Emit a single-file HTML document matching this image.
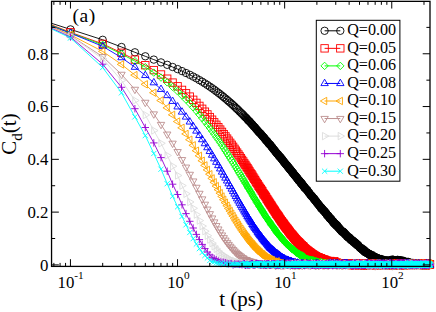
<!DOCTYPE html><html><head><meta charset="utf-8"><style>html,body{margin:0;padding:0;background:#fff}svg{display:block}text{font-family:"Liberation Serif",serif;fill:#000}</style></head><body>
<svg width="436" height="312" viewBox="0 0 436 312">
<rect width="436" height="312" fill="#fff"/>
<defs>
<marker id="m0" markerUnits="userSpaceOnUse" markerWidth="12" markerHeight="12" viewBox="-6 -6 12 12" refX="0" refY="0" overflow="visible"><g fill="none" stroke="#000000" stroke-width="0.9"><circle r="3.7" cx="0" cy="0"/></g></marker>
<marker id="d0" markerUnits="userSpaceOnUse" markerWidth="12" markerHeight="12" viewBox="-6 -6 12 12" refX="0" refY="0" overflow="visible"><g fill="#000000" fill-opacity="0.35" stroke="#000000" stroke-width="0.9"><circle r="3.7" cx="0" cy="0"/></g></marker>
<g id="s0" fill="none" stroke="#000000" stroke-width="0.9"><circle r="3.7" cx="0" cy="0"/></g>
<marker id="m1" markerUnits="userSpaceOnUse" markerWidth="12" markerHeight="12" viewBox="-6 -6 12 12" refX="0" refY="0" overflow="visible"><g fill="none" stroke="#ff0000" stroke-width="0.9"><rect x="-3.7" y="-3.7" width="7.4" height="7.4"/></g></marker>
<marker id="d1" markerUnits="userSpaceOnUse" markerWidth="12" markerHeight="12" viewBox="-6 -6 12 12" refX="0" refY="0" overflow="visible"><g fill="#ff0000" fill-opacity="0.35" stroke="#ff0000" stroke-width="0.9"><rect x="-3.7" y="-3.7" width="7.4" height="7.4"/></g></marker>
<g id="s1" fill="none" stroke="#ff0000" stroke-width="0.9"><rect x="-3.7" y="-3.7" width="7.4" height="7.4"/></g>
<marker id="m2" markerUnits="userSpaceOnUse" markerWidth="12" markerHeight="12" viewBox="-6 -6 12 12" refX="0" refY="0" overflow="visible"><g fill="none" stroke="#00ff00" stroke-width="0.9"><path d="M-3.7 0L0 -3.7L3.7 0L0 3.7Z"/></g></marker>
<marker id="d2" markerUnits="userSpaceOnUse" markerWidth="12" markerHeight="12" viewBox="-6 -6 12 12" refX="0" refY="0" overflow="visible"><g fill="#00ff00" fill-opacity="0.35" stroke="#00ff00" stroke-width="0.9"><path d="M-3.7 0L0 -3.7L3.7 0L0 3.7Z"/></g></marker>
<g id="s2" fill="none" stroke="#00ff00" stroke-width="0.9"><path d="M-3.7 0L0 -3.7L3.7 0L0 3.7Z"/></g>
<marker id="m3" markerUnits="userSpaceOnUse" markerWidth="12" markerHeight="12" viewBox="-6 -6 12 12" refX="0" refY="0" overflow="visible"><g fill="none" stroke="#0000ff" stroke-width="0.9"><path d="M0 -4.27L-3.7 2.14L3.7 2.14Z"/></g></marker>
<marker id="d3" markerUnits="userSpaceOnUse" markerWidth="12" markerHeight="12" viewBox="-6 -6 12 12" refX="0" refY="0" overflow="visible"><g fill="#0000ff" fill-opacity="0.35" stroke="#0000ff" stroke-width="0.9"><path d="M0 -4.27L-3.7 2.14L3.7 2.14Z"/></g></marker>
<g id="s3" fill="none" stroke="#0000ff" stroke-width="0.9"><path d="M0 -4.27L-3.7 2.14L3.7 2.14Z"/></g>
<marker id="m4" markerUnits="userSpaceOnUse" markerWidth="12" markerHeight="12" viewBox="-6 -6 12 12" refX="0" refY="0" overflow="visible"><g fill="none" stroke="#ffa500" stroke-width="0.9"><path d="M-4.27 0L2.14 -3.7L2.14 3.7Z"/></g></marker>
<marker id="d4" markerUnits="userSpaceOnUse" markerWidth="12" markerHeight="12" viewBox="-6 -6 12 12" refX="0" refY="0" overflow="visible"><g fill="#ffa500" fill-opacity="0.35" stroke="#ffa500" stroke-width="0.9"><path d="M-4.27 0L2.14 -3.7L2.14 3.7Z"/></g></marker>
<g id="s4" fill="none" stroke="#ffa500" stroke-width="0.9"><path d="M-4.27 0L2.14 -3.7L2.14 3.7Z"/></g>
<marker id="m5" markerUnits="userSpaceOnUse" markerWidth="12" markerHeight="12" viewBox="-6 -6 12 12" refX="0" refY="0" overflow="visible"><g fill="none" stroke="#bc8f8f" stroke-width="0.9"><path d="M0 4.27L-3.7 -2.14L3.7 -2.14Z"/></g></marker>
<marker id="d5" markerUnits="userSpaceOnUse" markerWidth="12" markerHeight="12" viewBox="-6 -6 12 12" refX="0" refY="0" overflow="visible"><g fill="#bc8f8f" fill-opacity="0.35" stroke="#bc8f8f" stroke-width="0.9"><path d="M0 4.27L-3.7 -2.14L3.7 -2.14Z"/></g></marker>
<g id="s5" fill="none" stroke="#bc8f8f" stroke-width="0.9"><path d="M0 4.27L-3.7 -2.14L3.7 -2.14Z"/></g>
<marker id="m6" markerUnits="userSpaceOnUse" markerWidth="12" markerHeight="12" viewBox="-6 -6 12 12" refX="0" refY="0" overflow="visible"><g fill="none" stroke="#dcdcdc" stroke-width="0.9"><path d="M4.27 0L-2.14 -3.7L-2.14 3.7Z"/></g></marker>
<marker id="d6" markerUnits="userSpaceOnUse" markerWidth="12" markerHeight="12" viewBox="-6 -6 12 12" refX="0" refY="0" overflow="visible"><g fill="#dcdcdc" fill-opacity="0.35" stroke="#dcdcdc" stroke-width="0.9"><path d="M4.27 0L-2.14 -3.7L-2.14 3.7Z"/></g></marker>
<g id="s6" fill="none" stroke="#dcdcdc" stroke-width="0.9"><path d="M4.27 0L-2.14 -3.7L-2.14 3.7Z"/></g>
<marker id="m7" markerUnits="userSpaceOnUse" markerWidth="12" markerHeight="12" viewBox="-6 -6 12 12" refX="0" refY="0" overflow="visible"><g fill="none" stroke="#9400d3" stroke-width="0.9"><path d="M-3.7 0H3.7M0 -3.7V3.7"/></g></marker>
<marker id="d7" markerUnits="userSpaceOnUse" markerWidth="12" markerHeight="12" viewBox="-6 -6 12 12" refX="0" refY="0" overflow="visible"><g fill="none" stroke="#9400d3" stroke-width="1.5"><path d="M-3.7 0H3.7M0 -3.7V3.7"/></g></marker>
<g id="s7" fill="none" stroke="#9400d3" stroke-width="0.9"><path d="M-3.7 0H3.7M0 -3.7V3.7"/></g>
<marker id="m8" markerUnits="userSpaceOnUse" markerWidth="12" markerHeight="12" viewBox="-6 -6 12 12" refX="0" refY="0" overflow="visible"><g fill="none" stroke="#00ffff" stroke-width="0.9"><path d="M-2.62 -2.62L2.62 2.62M-2.62 2.62L2.62 -2.62"/></g></marker>
<marker id="d8" markerUnits="userSpaceOnUse" markerWidth="12" markerHeight="12" viewBox="-6 -6 12 12" refX="0" refY="0" overflow="visible"><g fill="none" stroke="#00ffff" stroke-width="1.5"><path d="M-2.62 -2.62L2.62 2.62M-2.62 2.62L2.62 -2.62"/></g></marker>
<g id="s8" fill="none" stroke="#00ffff" stroke-width="0.9"><path d="M-2.62 -2.62L2.62 2.62M-2.62 2.62L2.62 -2.62"/></g>
<clipPath id="cp"><rect x="51.55" y="1.35" width="378.45" height="265.04999999999995"/></clipPath>
</defs>
<polyline clip-path="url(#cp)" fill="none" stroke="#000000" stroke-width="0.9" points="51.5,23.3 70.5,29.4 102.7,39.8 121.5,47.0 134.9,52.3 145.3,56.3 153.8,59.6 161.0,62.4 167.2,64.8 172.6,67.0 177.6,69.1 182.0,71.1 186.0,73.0 189.8,74.8 193.2,76.6 196.4,78.3 199.4,80.1 202.2,81.7 204.9,83.4 207.4,85.0 209.8,86.6 212.1,88.2 214.2,89.7 216.3,91.3 218.3,92.8 220.2,94.2 222.0,95.7 223.7,97.1 225.4,98.5 227.1,99.9 228.6,101.3 230.2,102.6 231.7,103.9 233.1,105.2 234.5,106.5 235.8,107.8 237.1,109.0 238.4,110.2 239.6,111.5 240.9,112.7 242.0,113.8 243.2,114.9 244.3,116.2 245.4,117.3 246.5,118.2 247.5,119.5 248.5,120.7 249.5,121.3 250.5,122.6 251.5,123.7 252.4,124.6 253.3,125.8 254.2,126.7 255.1,127.5 256.0,128.8 256.8,129.7 257.7,130.7 258.5,131.7 259.3,132.5 260.1,133.3 260.9,134.0 261.7,135.2 262.4,135.9 263.2,136.8 263.9,137.5 264.6,138.4 265.3,139.3 266.0,140.4 266.7,140.7 267.4,141.6 268.1,142.6 268.7,143.6 269.4,144.2 270.0,144.6 270.6,145.2 271.3,146.5 271.9,147.0 272.5,147.7 273.1,148.7 273.7,149.5 274.3,150.0 274.8,150.7 275.4,151.5 276.0,152.3 276.5,152.9 277.1,153.5 277.6,154.2 278.2,154.5 278.7,155.6 279.2,156.2 279.7,156.8 280.3,156.9 280.8,157.8 281.3,158.7 281.8,158.8 282.3,159.7 282.8,160.5 283.2,160.7 283.7,161.8 284.2,162.2 284.6,162.6 285.1,163.3 285.6,163.9 286.0,164.4 286.5,165.1 286.9,165.3 287.4,165.9 287.8,166.8 288.2,167.1 288.7,167.4 289.1,168.3 289.5,168.9 289.9,169.1 290.3,169.4 290.7,170.2 291.2,170.7 291.6,171.1 292.0,172.0 292.3,172.0 292.7,172.9 293.1,172.9 293.5,173.5 293.9,174.2 294.3,174.8 294.7,175.2 295.0,175.6 295.4,176.0 295.8,176.4 296.1,177.0 296.5,177.3 296.9,177.8 297.2,178.3 297.6,178.6 297.9,179.2 298.3,179.6 298.6,180.4 299.0,180.4 299.3,180.7 299.6,181.1 300.0,181.6 300.3,182.2 300.6,182.4 301.0,182.9 301.3,183.7 301.6,183.1 301.9,183.8 302.3,184.5 302.6,184.9 302.9,185.3 303.2,185.5 303.5,186.1 303.8,186.4 304.1,186.6 304.4,187.7 304.7,187.6 305.0,187.7 305.6,188.6 306.2,189.3 306.8,190.0 307.4,190.1 307.9,191.4 308.5,192.4 309.1,192.6 309.6,193.5 310.1,194.4 310.7,195.1 311.2,195.9 311.7,195.7 312.2,196.7 312.8,197.3 313.3,198.2 313.8,198.9 314.3,198.6 314.7,200.1 315.2,200.1 315.7,201.2 316.2,201.2 316.7,202.2 317.1,203.1 317.6,203.3 318.0,203.9 318.5,204.6 318.9,205.0 319.4,205.5 319.8,206.4 320.3,206.8 320.7,207.0 321.1,208.4 321.5,207.8 322.0,208.9 322.4,209.0 322.8,209.6 323.2,210.3 323.6,210.6 324.0,211.2 324.4,211.1 324.8,211.6 325.2,212.7 325.6,212.7 325.9,213.1 326.3,213.4 326.7,214.7 327.1,215.0 327.5,215.6 327.8,215.3 328.2,216.0 328.6,216.1 328.9,217.1 329.3,217.8 329.6,217.4 330.0,218.6 330.3,218.8 330.7,218.9 331.0,218.7 331.4,220.1 331.7,220.1 332.0,220.3 332.4,221.0 332.7,221.4 333.0,222.1 333.4,221.6 333.7,222.7 334.0,223.2 334.3,223.5 334.7,223.3 335.0,223.5 335.3,224.4 335.6,224.5 335.9,224.8 336.2,225.6 336.5,225.3 336.8,225.0 337.1,226.0 337.4,225.8 337.9,227.1 338.3,227.4 338.8,227.6 339.2,228.2 339.6,229.0 340.0,229.2 340.5,230.0 340.9,230.0 341.3,230.8 341.7,231.3 342.1,231.8 342.5,231.4 342.9,232.3 343.3,231.7 343.7,232.4 344.1,232.5 344.5,233.9 344.9,233.5 345.3,234.3 345.6,234.6 346.0,235.0 346.4,235.1 346.7,235.7 347.1,236.6 347.5,236.4 347.8,236.9 348.2,237.4 348.5,237.3 348.9,237.2 349.2,237.8 349.6,238.7 349.9,238.0 350.3,238.7 350.6,239.6 351.0,239.8 351.3,239.8 351.6,240.4 352.0,240.5 352.3,240.3 352.6,240.4 352.9,241.0 353.2,241.9 353.6,241.6 353.9,241.8 354.2,242.1 354.5,242.1 354.8,242.9 355.1,242.8 355.4,243.6 355.7,242.9 356.0,244.1 356.4,244.1 356.8,244.0 357.2,245.3 357.6,245.3 358.0,244.9 358.4,245.7 358.8,246.4 359.1,246.5 359.5,247.2 359.9,247.5 360.2,247.8 360.6,248.0 361.0,248.6 361.3,248.7 361.7,248.9 362.0,248.3 362.4,249.6 362.7,250.0 363.1,249.8 363.4,250.0 363.8,251.1 364.1,250.0 364.4,251.1 364.8,252.0 365.1,251.1 365.4,251.9 365.8,252.5 366.1,252.1 366.4,252.5 366.7,252.9 367.1,252.5 367.4,253.0 367.7,253.3 368.0,253.7 368.3,253.6 368.6,253.7 368.9,253.7 369.2,254.1 369.5,254.7 369.9,254.7 370.3,254.5 370.6,254.8 371.0,256.2 371.4,255.9 371.7,255.9 372.1,255.0 372.4,256.3 372.8,256.5 373.1,257.1 373.5,256.8 373.8,256.8 374.2,257.2 374.5,256.5 374.8,257.7 375.2,257.6 375.5,257.4 375.8,258.3 376.1,258.6 376.5,257.6 376.8,258.0 377.1,258.5 377.4,258.6 377.7,258.5 378.1,258.4 378.4,259.6 378.7,259.4 379.0,258.7 379.3,258.7 379.6,259.9 379.9,259.8 380.3,260.2 380.6,260.0 381.0,259.4 381.3,260.0 381.7,259.1 382.0,259.8 382.3,260.1 382.7,260.4 383.0,260.0 383.4,260.3 383.7,260.7 384.0,260.7 384.4,260.9 384.7,260.7 385.0,260.5 385.3,261.1 385.6,260.8 386.0,260.4 386.3,260.6 386.6,260.9 386.9,260.8 387.2,261.0 387.5,260.9 387.8,261.0 388.1,260.9 388.4,260.4 388.8,261.1 389.1,261.4 389.5,261.1 389.8,260.8 390.1,261.0 390.5,260.4 390.8,260.0 391.1,260.8 391.5,260.3 391.8,261.0 392.1,260.2 392.4,259.5 392.8,260.1 393.1,261.2 393.4,260.4 393.7,259.9 394.0,260.1 394.3,260.6 394.6,260.6 394.9,260.4 395.2,260.9 395.5,260.6 395.9,260.3 396.2,260.5 396.6,260.9 396.9,260.6 397.2,260.6 397.6,259.8 397.9,260.2 398.2,260.6 398.5,260.2 398.9,260.7 399.2,260.6 399.5,260.7 399.8,260.3 400.1,261.5 400.4,261.0 400.7,260.5 401.0,260.7 401.3,261.8 401.6,260.6 402.0,261.2 402.3,261.4 402.6,261.0 403.0,260.6 403.3,261.3 403.6,261.5 404.0,261.9 404.3,261.9 404.6,261.6 404.9,262.1 405.2,262.1 405.5,262.0 405.8,262.1 406.2,262.0 406.5,262.6 406.8,261.9 407.1,262.2 407.4,262.5 407.7,262.0 408.0,262.5 408.4,261.9 408.7,262.6 409.0,263.3 409.3,263.4 409.6,263.2 410.0,263.2 410.3,262.7 410.6,264.3 410.9,263.7 411.2,264.1 411.5,263.2 411.8,263.6 412.1,262.9 412.4,264.1 412.8,264.3 413.1,263.0 413.4,263.9 413.7,264.3 414.0,263.2 414.4,263.2 414.7,263.6 415.0,263.9 415.3,263.5 415.6,264.2 415.9,264.3 416.2,264.5 416.5,264.6 416.8,265.0 417.2,264.8 417.5,263.7 417.8,264.1 418.1,263.9 418.4,263.9 418.8,264.3 419.1,264.4 419.4,264.6 419.7,263.7 420.0,263.9 420.3,264.4 420.6,264.3 420.9,264.3 421.2,264.4 421.6,264.1 421.9,264.8 422.2,264.6 422.5,264.4 422.8,264.2 423.1,264.4 423.4,263.2 423.7,264.0 424.0,264.5 424.3,263.8 424.7,264.6 425.0,264.5 425.3,263.9 425.6,264.4 425.9,264.3 426.2,264.7 426.5,264.8 426.9,264.5 427.2,264.1 427.5,264.4 427.8,264.5 428.1,264.8 428.4,264.6 428.7,264.2 429.0,263.9 429.3,264.3 429.7,264.2 430.0,264.0"/>
<polyline fill="none" stroke="none" marker-start="url(#m0)" marker-mid="url(#m0)" marker-end="url(#m0)" points="70.5,29.4 102.7,39.8 121.5,47.0 134.9,52.3 145.3,56.3 153.8,59.6 161.0,62.4 167.2,64.8 172.6,67.0 177.6,69.1 182.0,71.1 186.0,73.0 189.8,74.8 193.2,76.6 196.4,78.3 199.4,80.1 202.2,81.7 204.9,83.4 207.4,85.0 209.8,86.6 212.1,88.2 214.2,89.7 216.3,91.3 218.3,92.8 220.2,94.2 222.0,95.7 223.7,97.1 225.4,98.5 227.1,99.9 228.6,101.3 230.2,102.6 231.7,103.9 233.1,105.2 234.5,106.5 235.8,107.8 237.1,109.0 238.4,110.2 239.6,111.5 240.9,112.7 242.0,113.8 243.2,114.9"/>
<polyline fill="none" stroke="none" marker-start="url(#d0)" marker-mid="url(#d0)" marker-end="url(#d0)" points="244.3,116.2 245.4,117.3 246.5,118.2 247.5,119.5 248.5,120.7 249.5,121.3 250.5,122.6 251.5,123.7 252.4,124.6 253.3,125.8 254.2,126.7 255.1,127.5 256.0,128.8 256.8,129.7 257.7,130.7 258.5,131.7 259.3,132.5 260.1,133.3 260.9,134.0 261.7,135.2 262.4,135.9 263.2,136.8 263.9,137.5 264.6,138.4 265.3,139.3 266.0,140.4 266.7,140.7 267.4,141.6 268.1,142.6 268.7,143.6 269.4,144.2 270.0,144.6 270.6,145.2 271.3,146.5 271.9,147.0 272.5,147.7 273.1,148.7 273.7,149.5 274.3,150.0 274.8,150.7 275.4,151.5 276.0,152.3 276.5,152.9 277.1,153.5 277.6,154.2 278.2,154.5 278.7,155.6 279.2,156.2 279.7,156.8 280.3,156.9 280.8,157.8 281.3,158.7 281.8,158.8 282.3,159.7 282.8,160.5 283.2,160.7 283.7,161.8 284.2,162.2 284.6,162.6 285.1,163.3 285.6,163.9 286.0,164.4 286.5,165.1 286.9,165.3 287.4,165.9 287.8,166.8 288.2,167.1 288.7,167.4 289.1,168.3 289.5,168.9 289.9,169.1 290.3,169.4 290.7,170.2 291.2,170.7 291.6,171.1 292.0,172.0 292.3,172.0 292.7,172.9 293.1,172.9 293.5,173.5 293.9,174.2 294.3,174.8 294.7,175.2 295.0,175.6 295.4,176.0 295.8,176.4 296.1,177.0 296.5,177.3 296.9,177.8 297.2,178.3 297.6,178.6 297.9,179.2 298.3,179.6 298.6,180.4 299.0,180.4 299.3,180.7 299.6,181.1 300.0,181.6 300.3,182.2 300.6,182.4 301.0,182.9 301.3,183.7 301.6,183.1 301.9,183.8 302.3,184.5 302.6,184.9 302.9,185.3 303.2,185.5 303.5,186.1 303.8,186.4 304.1,186.6 304.4,187.7 304.7,187.6 305.0,187.7 305.6,188.6 306.2,189.3 306.8,190.0 307.4,190.1 307.9,191.4 308.5,192.4 309.1,192.6 309.6,193.5 310.1,194.4 310.7,195.1 311.2,195.9 311.7,195.7 312.2,196.7 312.8,197.3 313.3,198.2 313.8,198.9 314.3,198.6 314.7,200.1 315.2,200.1 315.7,201.2 316.2,201.2 316.7,202.2 317.1,203.1 317.6,203.3 318.0,203.9 318.5,204.6 318.9,205.0 319.4,205.5 319.8,206.4 320.3,206.8 320.7,207.0 321.1,208.4 321.5,207.8 322.0,208.9 322.4,209.0 322.8,209.6 323.2,210.3 323.6,210.6 324.0,211.2 324.4,211.1 324.8,211.6 325.2,212.7 325.6,212.7 325.9,213.1 326.3,213.4 326.7,214.7 327.1,215.0 327.5,215.6 327.8,215.3 328.2,216.0 328.6,216.1 328.9,217.1 329.3,217.8 329.6,217.4 330.0,218.6 330.3,218.8 330.7,218.9 331.0,218.7 331.4,220.1 331.7,220.1 332.0,220.3 332.4,221.0 332.7,221.4 333.0,222.1 333.4,221.6 333.7,222.7 334.0,223.2 334.3,223.5 334.7,223.3 335.0,223.5 335.3,224.4 335.6,224.5 335.9,224.8 336.2,225.6 336.5,225.3 336.8,225.0 337.1,226.0 337.4,225.8 337.9,227.1 338.3,227.4 338.8,227.6 339.2,228.2 339.6,229.0 340.0,229.2 340.5,230.0 340.9,230.0 341.3,230.8 341.7,231.3 342.1,231.8 342.5,231.4 342.9,232.3 343.3,231.7 343.7,232.4 344.1,232.5 344.5,233.9 344.9,233.5 345.3,234.3 345.6,234.6 346.0,235.0 346.4,235.1 346.7,235.7 347.1,236.6 347.5,236.4 347.8,236.9 348.2,237.4 348.5,237.3 348.9,237.2 349.2,237.8 349.6,238.7 349.9,238.0 350.3,238.7 350.6,239.6 351.0,239.8 351.3,239.8 351.6,240.4 352.0,240.5 352.3,240.3 352.6,240.4 352.9,241.0 353.2,241.9 353.6,241.6 353.9,241.8 354.2,242.1 354.5,242.1 354.8,242.9 355.1,242.8 355.4,243.6 355.7,242.9 356.0,244.1 356.4,244.1 356.8,244.0 357.2,245.3 357.6,245.3 358.0,244.9 358.4,245.7 358.8,246.4 359.1,246.5 359.5,247.2 359.9,247.5 360.2,247.8 360.6,248.0 361.0,248.6 361.3,248.7 361.7,248.9 362.0,248.3 362.4,249.6 362.7,250.0 363.1,249.8 363.4,250.0 363.8,251.1 364.1,250.0 364.4,251.1 364.8,252.0 365.1,251.1 365.4,251.9 365.8,252.5 366.1,252.1 366.4,252.5 366.7,252.9 367.1,252.5 367.4,253.0 367.7,253.3 368.0,253.7 368.3,253.6 368.6,253.7 368.9,253.7 369.2,254.1 369.5,254.7 369.9,254.7 370.3,254.5 370.6,254.8 371.0,256.2 371.4,255.9 371.7,255.9 372.1,255.0 372.4,256.3 372.8,256.5 373.1,257.1 373.5,256.8 373.8,256.8 374.2,257.2 374.5,256.5 374.8,257.7 375.2,257.6 375.5,257.4 375.8,258.3 376.1,258.6 376.5,257.6 376.8,258.0 377.1,258.5 377.4,258.6 377.7,258.5 378.1,258.4 378.4,259.6 378.7,259.4 379.0,258.7 379.3,258.7 379.6,259.9 379.9,259.8 380.3,260.2 380.6,260.0 381.0,259.4 381.3,260.0 381.7,259.1 382.0,259.8 382.3,260.1 382.7,260.4 383.0,260.0 383.4,260.3 383.7,260.7 384.0,260.7 384.4,260.9 384.7,260.7 385.0,260.5 385.3,261.1 385.6,260.8 386.0,260.4 386.3,260.6 386.6,260.9 386.9,260.8 387.2,261.0 387.5,260.9 387.8,261.0 388.1,260.9 388.4,260.4 388.8,261.1 389.1,261.4 389.5,261.1 389.8,260.8 390.1,261.0 390.5,260.4 390.8,260.0 391.1,260.8 391.5,260.3 391.8,261.0 392.1,260.2 392.4,259.5 392.8,260.1 393.1,261.2 393.4,260.4 393.7,259.9 394.0,260.1 394.3,260.6 394.6,260.6 394.9,260.4 395.2,260.9 395.5,260.6 395.9,260.3 396.2,260.5 396.6,260.9 396.9,260.6 397.2,260.6 397.6,259.8 397.9,260.2 398.2,260.6 398.5,260.2 398.9,260.7 399.2,260.6 399.5,260.7 399.8,260.3 400.1,261.5 400.4,261.0 400.7,260.5 401.0,260.7 401.3,261.8 401.6,260.6 402.0,261.2 402.3,261.4 402.6,261.0 403.0,260.6 403.3,261.3 403.6,261.5 404.0,261.9 404.3,261.9 404.6,261.6 404.9,262.1 405.2,262.1 405.5,262.0 405.8,262.1 406.2,262.0 406.5,262.6 406.8,261.9 407.1,262.2 407.4,262.5 407.7,262.0 408.0,262.5 408.4,261.9 408.7,262.6 409.0,263.3 409.3,263.4 409.6,263.2 410.0,263.2 410.3,262.7 410.6,264.3 410.9,263.7 411.2,264.1 411.5,263.2 411.8,263.6 412.1,262.9 412.4,264.1 412.8,264.3 413.1,263.0 413.4,263.9 413.7,264.3 414.0,263.2 414.4,263.2 414.7,263.6 415.0,263.9 415.3,263.5 415.6,264.2 415.9,264.3 416.2,264.5 416.5,264.6 416.8,265.0 417.2,264.8 417.5,263.7 417.8,264.1 418.1,263.9 418.4,263.9 418.8,264.3 419.1,264.4 419.4,264.6 419.7,263.7 420.0,263.9 420.3,264.4 420.6,264.3 420.9,264.3 421.2,264.4 421.6,264.1 421.9,264.8 422.2,264.6 422.5,264.4 422.8,264.2 423.1,264.4 423.4,263.2 423.7,264.0 424.0,264.5 424.3,263.8 424.7,264.6 425.0,264.5 425.3,263.9 425.6,264.4 425.9,264.3 426.2,264.7 426.5,264.8 426.9,264.5 427.2,264.1 427.5,264.4 427.8,264.5 428.1,264.8 428.4,264.6 428.7,264.2 429.0,263.9 429.3,264.3 429.7,264.2 430.0,264.0"/>
<polyline clip-path="url(#cp)" fill="none" stroke="#ff0000" stroke-width="0.9" points="51.5,24.9 70.5,32.3 102.7,43.9 121.5,52.8 134.9,59.6 145.3,65.2 153.8,70.1 161.0,74.5 167.2,78.7 172.6,82.6 177.6,86.3 182.0,89.9 186.0,93.3 189.8,96.6 193.2,99.8 196.4,102.9 199.4,105.9 202.2,108.8 204.9,111.7 207.4,114.4 209.8,117.1 212.1,119.7 214.2,122.3 216.3,124.8 218.3,127.2 220.2,129.6 222.0,131.9 223.7,134.2 225.4,136.4 227.1,138.6 228.6,140.7 230.2,142.8 231.7,144.8 233.1,146.8 234.5,148.8 235.8,150.7 237.1,152.6 238.4,154.5 239.6,156.3 240.9,158.1 242.0,159.9 243.2,161.5 244.3,163.4 245.4,164.9 246.5,166.7 247.5,168.1 248.5,169.7 249.5,171.4 250.5,173.0 251.5,174.3 252.4,175.7 253.3,177.4 254.2,178.7 255.1,180.1 256.0,181.7 256.8,183.0 257.7,184.1 258.5,185.8 259.3,186.8 260.1,188.1 260.9,189.2 261.7,190.5 262.4,191.4 263.2,193.2 263.9,194.3 264.6,195.0 265.3,196.1 266.0,197.2 266.7,198.7 267.4,199.5 268.1,200.7 268.7,201.7 269.4,202.7 270.0,203.6 270.6,204.7 271.3,205.5 271.9,206.6 272.5,207.6 273.1,208.6 273.7,209.4 274.3,210.2 274.8,211.2 275.4,212.0 276.0,213.2 276.5,213.9 277.1,214.6 277.6,215.3 278.2,216.1 278.7,216.8 279.2,217.7 279.7,218.6 280.3,219.3 280.8,220.1 281.3,221.1 281.8,221.3 282.3,222.1 282.8,223.3 283.2,223.1 283.7,224.1 284.2,224.8 284.6,225.5 285.1,226.2 285.6,226.7 286.0,227.4 286.5,227.9 286.9,228.7 287.4,228.8 287.8,229.5 288.2,230.3 288.7,230.6 289.1,231.2 289.5,232.0 289.9,232.3 290.3,233.1 290.7,233.6 291.2,234.0 291.6,234.6 292.0,234.9 292.3,235.1 292.7,235.9 293.1,236.5 293.5,236.7 293.9,237.3 294.3,237.9 294.7,238.0 295.0,238.7 295.4,239.4 295.8,239.3 296.1,239.9 296.5,240.2 296.9,240.9 297.2,241.1 297.6,241.6 297.9,241.6 298.3,242.1 298.6,242.5 299.0,242.5 299.3,243.5 299.6,243.8 300.0,243.5 300.3,244.4 300.6,244.5 301.0,245.0 301.3,245.3 301.6,245.2 301.9,245.8 302.3,246.5 302.6,246.3 302.9,246.5 303.2,246.7 303.5,247.0 303.8,247.7 304.1,248.2 304.4,248.2 304.7,248.4 305.0,249.2 305.6,249.0 306.2,249.5 306.8,250.3 307.4,250.7 307.9,250.8 308.5,251.2 309.1,252.0 309.6,252.4 310.1,252.4 310.7,253.0 311.2,253.3 311.7,253.9 312.2,254.1 312.8,254.5 313.3,254.7 313.8,255.4 314.3,255.8 314.7,255.6 315.2,256.2 315.7,256.1 316.2,256.6 316.7,257.0 317.1,257.4 317.6,257.2 318.0,257.5 318.5,257.8 318.9,257.6 319.4,258.2 319.8,258.2 320.3,258.7 320.7,258.4 321.1,258.3 321.5,259.1 322.0,259.4 322.4,259.3 322.8,259.9 323.2,259.7 323.6,259.7 324.0,260.3 324.4,259.6 324.8,260.1 325.2,260.5 325.6,261.0 325.9,260.7 326.3,261.0 326.7,260.7 327.1,261.2 327.5,262.0 327.8,261.0 328.2,262.5 328.6,261.2 328.9,261.6 329.3,261.8 329.6,262.3 330.0,261.3 330.3,261.0 330.7,262.3 331.0,262.5 331.4,262.5 331.7,263.5 332.0,262.4 332.4,262.5 332.7,262.9 333.0,262.7 333.4,263.4 333.7,262.1 334.0,262.6 334.3,261.2 334.7,263.2 335.0,262.7 335.3,263.4 335.6,264.0 335.9,263.0 336.2,263.0 336.5,262.9 336.8,262.8 337.1,262.9 337.4,263.6 337.9,263.3 338.3,263.4 338.8,263.4 339.2,263.9 339.6,263.8 340.0,263.5 340.5,263.9 340.9,263.6 341.3,263.2 341.7,264.4 342.1,264.0 342.5,263.4 342.9,264.3 343.3,264.0 343.7,263.2 344.1,264.7 344.5,264.1 344.9,264.4 345.3,264.1 345.6,264.0 346.0,263.4 346.4,264.5 346.7,264.1 347.1,264.0 347.5,264.3 347.8,264.2 348.2,264.5 348.5,264.0 348.9,264.2 349.2,263.3 349.6,264.0 349.9,264.5 350.3,264.9 350.6,264.1 351.0,264.2 351.3,265.0 351.6,264.2 352.0,264.6 352.3,265.1 352.6,264.3 352.9,264.9 353.2,264.0 353.6,264.4 353.9,264.3 354.2,264.4 354.5,264.9 354.8,265.5 355.1,264.1 355.4,264.1 355.7,264.6 356.0,263.9 356.4,264.6 356.8,264.7 357.2,264.3 357.6,264.7 358.0,263.7 358.4,264.8 358.8,263.7 359.1,264.1 359.5,264.2 359.9,264.3 360.2,264.8 360.6,264.5 361.0,264.3 361.3,264.7 361.7,265.2 362.0,264.5 362.4,264.6 362.7,265.0 363.1,264.6 363.4,263.9 363.8,265.6 364.1,265.5 364.4,263.6 364.8,264.5 365.1,264.7 365.4,264.9 365.8,264.8 366.1,264.4 366.4,264.0 366.7,264.5 367.1,265.0 367.4,264.0 367.7,264.0 368.0,264.5 368.3,263.6 368.6,264.4 368.9,264.3 369.2,264.7 369.5,264.2 369.9,264.1 370.3,264.3 370.6,264.5 371.0,264.2 371.4,264.5 371.7,264.8 372.1,265.0 372.4,265.3 372.8,264.1 373.1,264.3 373.5,263.4 373.8,265.4 374.2,264.2 374.5,264.5 374.8,264.7 375.2,263.9 375.5,264.7 375.8,264.5 376.1,263.7 376.5,264.6 376.8,265.0 377.1,263.7 377.4,264.9 377.7,264.6 378.1,264.7 378.4,264.7 378.7,265.1 379.0,264.4 379.3,264.9 379.6,264.3 379.9,264.8 380.3,264.1 380.6,264.5 381.0,265.3 381.3,264.7 381.7,264.4 382.0,264.0 382.3,264.1 382.7,264.6 383.0,264.9 383.4,264.7 383.7,264.7 384.0,264.5 384.4,265.1 384.7,264.3 385.0,264.3 385.3,264.9 385.6,264.5 386.0,264.4 386.3,264.2 386.6,264.4 386.9,264.8 387.2,264.7 387.5,264.0 387.8,264.7 388.1,264.6 388.4,264.0 388.8,264.8 389.1,264.4 389.5,264.3 389.8,264.9 390.1,265.1 390.5,264.2 390.8,264.7 391.1,264.1 391.5,265.5 391.8,264.3 392.1,265.0 392.4,264.2 392.8,264.9 393.1,265.5 393.4,263.4 393.7,264.3 394.0,264.7 394.3,264.5 394.6,264.2 394.9,265.5 395.2,264.5 395.5,263.8 395.9,264.9 396.2,263.7 396.6,265.0 396.9,264.2 397.2,264.6 397.6,265.1 397.9,264.6 398.2,263.9 398.5,263.7 398.9,265.0 399.2,264.8 399.5,264.1 399.8,264.9 400.1,264.7 400.4,264.8 400.7,263.5 401.0,264.4 401.3,264.9 401.6,264.8 402.0,264.9 402.3,263.4 402.6,264.6 403.0,264.7 403.3,265.6 403.6,264.1 404.0,264.4 404.3,264.5 404.6,264.9 404.9,264.3 405.2,265.0 405.5,264.1 405.8,264.6 406.2,264.3 406.5,264.6 406.8,264.2 407.1,263.8 407.4,265.0 407.7,264.6 408.0,264.2 408.4,264.6 408.7,264.9 409.0,264.1 409.3,264.5 409.6,264.7 410.0,264.7 410.3,264.3 410.6,263.6 410.9,265.1 411.2,264.6 411.5,264.5 411.8,264.4 412.1,264.6 412.4,264.3 412.8,264.0 413.1,264.2 413.4,264.2 413.7,264.2 414.0,264.0 414.4,264.8 414.7,263.9 415.0,264.8 415.3,264.0 415.6,264.7 415.9,265.1 416.2,264.6 416.5,264.2 416.8,264.5 417.2,264.6 417.5,263.7 417.8,264.2 418.1,264.6 418.4,264.3 418.8,264.5 419.1,264.8 419.4,264.8 419.7,264.9 420.0,264.8 420.3,264.4 420.6,264.5 420.9,264.4 421.2,264.4 421.6,264.4 421.9,263.7 422.2,264.4 422.5,264.5 422.8,264.1 423.1,264.5 423.4,264.7 423.7,264.4 424.0,265.4 424.3,263.3 424.7,264.4 425.0,263.7 425.3,264.9 425.6,265.7 425.9,263.4 426.2,264.6 426.5,264.7 426.9,264.4 427.2,264.7 427.5,263.5 427.8,264.9 428.1,264.7 428.4,264.5 428.7,264.2 429.0,264.8 429.3,264.3 429.7,264.6 430.0,264.3"/>
<polyline fill="none" stroke="none" marker-start="url(#m1)" marker-mid="url(#m1)" marker-end="url(#m1)" points="70.5,32.3 102.7,43.9 121.5,52.8 134.9,59.6 145.3,65.2 153.8,70.1 161.0,74.5 167.2,78.7 172.6,82.6 177.6,86.3 182.0,89.9 186.0,93.3 189.8,96.6 193.2,99.8 196.4,102.9 199.4,105.9 202.2,108.8 204.9,111.7 207.4,114.4 209.8,117.1 212.1,119.7 214.2,122.3 216.3,124.8 218.3,127.2 220.2,129.6 222.0,131.9 223.7,134.2 225.4,136.4 227.1,138.6 228.6,140.7 230.2,142.8 231.7,144.8 233.1,146.8 234.5,148.8 235.8,150.7 237.1,152.6 238.4,154.5 239.6,156.3 240.9,158.1 242.0,159.9 243.2,161.5"/>
<polyline fill="none" stroke="none" marker-start="url(#d1)" marker-mid="url(#d1)" marker-end="url(#d1)" points="244.3,163.4 245.4,164.9 246.5,166.7 247.5,168.1 248.5,169.7 249.5,171.4 250.5,173.0 251.5,174.3 252.4,175.7 253.3,177.4 254.2,178.7 255.1,180.1 256.0,181.7 256.8,183.0 257.7,184.1 258.5,185.8 259.3,186.8 260.1,188.1 260.9,189.2 261.7,190.5 262.4,191.4 263.2,193.2 263.9,194.3 264.6,195.0 265.3,196.1 266.0,197.2 266.7,198.7 267.4,199.5 268.1,200.7 268.7,201.7 269.4,202.7 270.0,203.6 270.6,204.7 271.3,205.5 271.9,206.6 272.5,207.6 273.1,208.6 273.7,209.4 274.3,210.2 274.8,211.2 275.4,212.0 276.0,213.2 276.5,213.9 277.1,214.6 277.6,215.3 278.2,216.1 278.7,216.8 279.2,217.7 279.7,218.6 280.3,219.3 280.8,220.1 281.3,221.1 281.8,221.3 282.3,222.1 282.8,223.3 283.2,223.1 283.7,224.1 284.2,224.8 284.6,225.5 285.1,226.2 285.6,226.7 286.0,227.4 286.5,227.9 286.9,228.7 287.4,228.8 287.8,229.5 288.2,230.3 288.7,230.6 289.1,231.2 289.5,232.0 289.9,232.3 290.3,233.1 290.7,233.6 291.2,234.0 291.6,234.6 292.0,234.9 292.3,235.1 292.7,235.9 293.1,236.5 293.5,236.7 293.9,237.3 294.3,237.9 294.7,238.0 295.0,238.7 295.4,239.4 295.8,239.3 296.1,239.9 296.5,240.2 296.9,240.9 297.2,241.1 297.6,241.6 297.9,241.6 298.3,242.1 298.6,242.5 299.0,242.5 299.3,243.5 299.6,243.8 300.0,243.5 300.3,244.4 300.6,244.5 301.0,245.0 301.3,245.3 301.6,245.2 301.9,245.8 302.3,246.5 302.6,246.3 302.9,246.5 303.2,246.7 303.5,247.0 303.8,247.7 304.1,248.2 304.4,248.2 304.7,248.4 305.0,249.2 305.6,249.0 306.2,249.5 306.8,250.3 307.4,250.7 307.9,250.8 308.5,251.2 309.1,252.0 309.6,252.4 310.1,252.4 310.7,253.0 311.2,253.3 311.7,253.9 312.2,254.1 312.8,254.5 313.3,254.7 313.8,255.4 314.3,255.8 314.7,255.6 315.2,256.2 315.7,256.1 316.2,256.6 316.7,257.0 317.1,257.4 317.6,257.2 318.0,257.5 318.5,257.8 318.9,257.6 319.4,258.2 319.8,258.2 320.3,258.7 320.7,258.4 321.1,258.3 321.5,259.1 322.0,259.4 322.4,259.3 322.8,259.9 323.2,259.7 323.6,259.7 324.0,260.3 324.4,259.6 324.8,260.1 325.2,260.5 325.6,261.0 325.9,260.7 326.3,261.0 326.7,260.7 327.1,261.2 327.5,262.0 327.8,261.0 328.2,262.5 328.6,261.2 328.9,261.6 329.3,261.8 329.6,262.3 330.0,261.3 330.3,261.0 330.7,262.3 331.0,262.5 331.4,262.5 331.7,263.5 332.0,262.4 332.4,262.5 332.7,262.9 333.0,262.7 333.4,263.4 333.7,262.1 334.0,262.6 334.3,261.2 334.7,263.2 335.0,262.7 335.3,263.4 335.6,264.0 335.9,263.0 336.2,263.0 336.5,262.9 336.8,262.8 337.1,262.9 337.4,263.6 337.9,263.3 338.3,263.4 338.8,263.4 339.2,263.9 339.6,263.8 340.0,263.5 340.5,263.9 340.9,263.6 341.3,263.2 341.7,264.4 342.1,264.0 342.5,263.4 342.9,264.3 343.3,264.0 343.7,263.2 344.1,264.7 344.5,264.1 344.9,264.4 345.3,264.1 345.6,264.0 346.0,263.4 346.4,264.5 346.7,264.1 347.1,264.0 347.5,264.3 347.8,264.2 348.2,264.5 348.5,264.0 348.9,264.2 349.2,263.3 349.6,264.0 349.9,264.5 350.3,264.9 350.6,264.1 351.0,264.2 351.3,265.0 351.6,264.2 352.0,264.6 352.3,265.1 352.6,264.3 352.9,264.9 353.2,264.0 353.6,264.4 353.9,264.3 354.2,264.4 354.5,264.9 354.8,265.5 355.1,264.1 355.4,264.1 355.7,264.6 356.0,263.9 356.4,264.6 356.8,264.7 357.2,264.3 357.6,264.7 358.0,263.7 358.4,264.8 358.8,263.7 359.1,264.1 359.5,264.2 359.9,264.3 360.2,264.8 360.6,264.5 361.0,264.3 361.3,264.7 361.7,265.2 362.0,264.5 362.4,264.6 362.7,265.0 363.1,264.6 363.4,263.9 363.8,265.6 364.1,265.5 364.4,263.6 364.8,264.5 365.1,264.7 365.4,264.9 365.8,264.8 366.1,264.4 366.4,264.0 366.7,264.5 367.1,265.0 367.4,264.0 367.7,264.0 368.0,264.5 368.3,263.6 368.6,264.4 368.9,264.3 369.2,264.7 369.5,264.2 369.9,264.1 370.3,264.3 370.6,264.5 371.0,264.2 371.4,264.5 371.7,264.8 372.1,265.0 372.4,265.3 372.8,264.1 373.1,264.3 373.5,263.4 373.8,265.4 374.2,264.2 374.5,264.5 374.8,264.7 375.2,263.9 375.5,264.7 375.8,264.5 376.1,263.7 376.5,264.6 376.8,265.0 377.1,263.7 377.4,264.9 377.7,264.6 378.1,264.7 378.4,264.7 378.7,265.1 379.0,264.4 379.3,264.9 379.6,264.3 379.9,264.8 380.3,264.1 380.6,264.5 381.0,265.3 381.3,264.7 381.7,264.4 382.0,264.0 382.3,264.1 382.7,264.6 383.0,264.9 383.4,264.7 383.7,264.7 384.0,264.5 384.4,265.1 384.7,264.3 385.0,264.3 385.3,264.9 385.6,264.5 386.0,264.4 386.3,264.2 386.6,264.4 386.9,264.8 387.2,264.7 387.5,264.0 387.8,264.7 388.1,264.6 388.4,264.0 388.8,264.8 389.1,264.4 389.5,264.3 389.8,264.9 390.1,265.1 390.5,264.2 390.8,264.7 391.1,264.1 391.5,265.5 391.8,264.3 392.1,265.0 392.4,264.2 392.8,264.9 393.1,265.5 393.4,263.4 393.7,264.3 394.0,264.7 394.3,264.5 394.6,264.2 394.9,265.5 395.2,264.5 395.5,263.8 395.9,264.9 396.2,263.7 396.6,265.0 396.9,264.2 397.2,264.6 397.6,265.1 397.9,264.6 398.2,263.9 398.5,263.7 398.9,265.0 399.2,264.8 399.5,264.1 399.8,264.9 400.1,264.7 400.4,264.8 400.7,263.5 401.0,264.4 401.3,264.9 401.6,264.8 402.0,264.9 402.3,263.4 402.6,264.6 403.0,264.7 403.3,265.6 403.6,264.1 404.0,264.4 404.3,264.5 404.6,264.9 404.9,264.3 405.2,265.0 405.5,264.1 405.8,264.6 406.2,264.3 406.5,264.6 406.8,264.2 407.1,263.8 407.4,265.0 407.7,264.6 408.0,264.2 408.4,264.6 408.7,264.9 409.0,264.1 409.3,264.5 409.6,264.7 410.0,264.7 410.3,264.3 410.6,263.6 410.9,265.1 411.2,264.6 411.5,264.5 411.8,264.4 412.1,264.6 412.4,264.3 412.8,264.0 413.1,264.2 413.4,264.2 413.7,264.2 414.0,264.0 414.4,264.8 414.7,263.9 415.0,264.8 415.3,264.0 415.6,264.7 415.9,265.1 416.2,264.6 416.5,264.2 416.8,264.5 417.2,264.6 417.5,263.7 417.8,264.2 418.1,264.6 418.4,264.3 418.8,264.5 419.1,264.8 419.4,264.8 419.7,264.9 420.0,264.8 420.3,264.4 420.6,264.5 420.9,264.4 421.2,264.4 421.6,264.4 421.9,263.7 422.2,264.4 422.5,264.5 422.8,264.1 423.1,264.5 423.4,264.7 423.7,264.4 424.0,265.4 424.3,263.3 424.7,264.4 425.0,263.7 425.3,264.9 425.6,265.7 425.9,263.4 426.2,264.6 426.5,264.7 426.9,264.4 427.2,264.7 427.5,263.5 427.8,264.9 428.1,264.7 428.4,264.5 428.7,264.2 429.0,264.8 429.3,264.3 429.7,264.6 430.0,264.3"/>
<polyline clip-path="url(#cp)" fill="none" stroke="#00ff00" stroke-width="0.9" points="51.5,25.5 70.5,32.9 102.7,44.8 121.5,54.0 134.9,61.1 145.3,67.1 153.8,72.6 161.0,77.6 167.2,82.4 172.6,86.9 177.6,91.3 182.0,95.5 186.0,99.6 189.8,103.5 193.2,107.3 196.4,111.0 199.4,114.6 202.2,118.1 204.9,121.5 207.4,124.8 209.8,128.0 212.1,131.1 214.2,134.1 216.3,137.1 218.3,139.9 220.2,142.7 222.0,145.5 223.7,148.1 225.4,150.7 227.1,153.3 228.6,155.8 230.2,158.2 231.7,160.5 233.1,162.8 234.5,165.1 235.8,167.3 237.1,169.4 238.4,171.5 239.6,173.6 240.9,175.6 242.0,177.6 243.2,179.3 244.3,181.3 245.4,183.2 246.5,185.0 247.5,186.8 248.5,188.4 249.5,190.0 250.5,191.6 251.5,193.1 252.4,194.9 253.3,196.5 254.2,198.0 255.1,199.4 256.0,200.8 256.8,202.3 257.7,203.6 258.5,205.0 259.3,206.3 260.1,207.5 260.9,208.9 261.7,209.9 262.4,211.1 263.2,212.2 263.9,213.4 264.6,214.8 265.3,216.0 266.0,216.8 266.7,217.9 267.4,219.0 268.1,220.0 268.7,221.0 269.4,221.6 270.0,222.6 270.6,223.7 271.3,224.7 271.9,225.4 272.5,226.1 273.1,227.0 273.7,227.8 274.3,228.6 274.8,229.7 275.4,230.2 276.0,231.0 276.5,232.1 277.1,232.7 277.6,233.2 278.2,233.7 278.7,234.6 279.2,235.5 279.7,235.9 280.3,236.7 280.8,237.1 281.3,237.8 281.8,238.2 282.3,238.9 282.8,239.6 283.2,239.7 283.7,240.5 284.2,241.1 284.6,241.4 285.1,242.0 285.6,242.7 286.0,243.4 286.5,243.6 286.9,244.0 287.4,244.1 287.8,245.2 288.2,245.3 288.7,245.7 289.1,245.9 289.5,246.5 289.9,246.7 290.3,247.3 290.7,247.7 291.2,248.0 291.6,248.4 292.0,248.6 292.3,249.4 292.7,249.3 293.1,249.4 293.5,250.0 293.9,250.2 294.3,250.5 294.7,250.9 295.0,251.4 295.4,251.3 295.8,251.8 296.1,252.4 296.5,252.6 296.9,252.6 297.2,253.0 297.6,253.2 297.9,253.4 298.3,253.8 298.6,253.9 299.0,253.6 299.3,254.4 299.6,254.4 300.0,255.0 300.3,254.9 300.6,255.3 301.0,255.9 301.3,255.4 301.6,255.6 301.9,255.7 302.3,255.7 302.6,256.0 302.9,256.7 303.2,256.6 303.5,256.5 303.8,256.7 304.1,257.4 304.4,257.2 304.7,257.5 305.0,257.8 305.6,258.4 306.2,258.8 306.8,258.9 307.4,258.9 307.9,259.1 308.5,259.9 309.1,260.0 309.6,259.6 310.1,260.1 310.7,260.3 311.2,260.3 311.7,260.3 312.2,260.1 312.8,260.6 313.3,260.3 313.8,261.7 314.3,261.5 314.7,260.9 315.2,262.2 315.7,262.1 316.2,261.0 316.7,262.8 317.1,262.4 317.6,263.1 318.0,261.7 318.5,262.6 318.9,262.6 319.4,262.6 319.8,262.7 320.3,263.2 320.7,262.1 321.1,262.3 321.5,262.3 322.0,262.7 322.4,262.8 322.8,263.3 323.2,263.3 323.6,263.3 324.0,263.0 324.4,263.1 324.8,263.8 325.2,263.8 325.6,263.5 325.9,263.4 326.3,264.3 326.7,263.3 327.1,263.9 327.5,264.2 327.8,263.6 328.2,264.1 328.6,263.3 328.9,264.3 329.3,263.9 329.6,263.2 330.0,264.2 330.3,263.5 330.7,264.5 331.0,263.7 331.4,263.9 331.7,264.2 332.0,263.9 332.4,264.2 332.7,263.8 333.0,264.4 333.4,264.1 333.7,264.2 334.0,262.9 334.3,264.7 334.7,264.2 335.0,263.4 335.3,264.3 335.6,264.4 335.9,264.7 336.2,263.8 336.5,265.0 336.8,264.2 337.1,265.4 337.4,264.2 337.9,264.6 338.3,264.1 338.8,263.8 339.2,264.8 339.6,264.8 340.0,265.0 340.5,264.8 340.9,264.1 341.3,263.6 341.7,264.1 342.1,264.1 342.5,264.0 342.9,264.7 343.3,264.6 343.7,264.3 344.1,264.5 344.5,264.4 344.9,264.5 345.3,264.8 345.6,264.9 346.0,264.1 346.4,263.8 346.7,265.1 347.1,264.5 347.5,265.0 347.8,263.7 348.2,264.3 348.5,264.5 348.9,263.8 349.2,264.2 349.6,264.8 349.9,265.0 350.3,265.2 350.6,264.1 351.0,263.8 351.3,264.7 351.6,264.9 352.0,264.6 352.3,263.9 352.6,264.8 352.9,264.8 353.2,264.7 353.6,264.3 353.9,264.6 354.2,264.8 354.5,264.2 354.8,263.7 355.1,264.6 355.4,264.7 355.7,264.5 356.0,264.9 356.4,264.2 356.8,264.5 357.2,264.4 357.6,264.8 358.0,265.2 358.4,264.4 358.8,265.4 359.1,265.2 359.5,264.9 359.9,264.8 360.2,265.3 360.6,264.4 361.0,264.4 361.3,264.0 361.7,264.7 362.0,265.1 362.4,264.7 362.7,264.7 363.1,264.4 363.4,264.6 363.8,263.9 364.1,265.0 364.4,264.3 364.8,264.0 365.1,264.2 365.4,264.1 365.8,264.9 366.1,265.0 366.4,263.9 366.7,264.9 367.1,264.9 367.4,264.2 367.7,263.8 368.0,264.2 368.3,264.2 368.6,264.7 368.9,264.3 369.2,263.6 369.5,264.6 369.9,263.8 370.3,264.9 370.6,264.0 371.0,264.2 371.4,264.1 371.7,264.3 372.1,265.1 372.4,264.9 372.8,264.8 373.1,264.6 373.5,263.8 373.8,264.3 374.2,264.3 374.5,264.1 374.8,264.7 375.2,264.2 375.5,264.2 375.8,264.0 376.1,263.6 376.5,264.8 376.8,265.1 377.1,264.6 377.4,264.1 377.7,263.3 378.1,264.6 378.4,265.0 378.7,264.6 379.0,264.9 379.3,265.2 379.6,265.0 379.9,264.3 380.3,265.0 380.6,264.8 381.0,263.8 381.3,264.3 381.7,263.9 382.0,264.5 382.3,264.8 382.7,264.0 383.0,263.6 383.4,265.1 383.7,264.7 384.0,265.2 384.4,263.9 384.7,265.0 385.0,265.4 385.3,265.4 385.6,264.4 386.0,264.6 386.3,264.4 386.6,264.9 386.9,265.0 387.2,264.5 387.5,263.9 387.8,264.8 388.1,264.3 388.4,264.8 388.8,264.6 389.1,265.2 389.5,265.0 389.8,264.3 390.1,264.7 390.5,265.3 390.8,264.3 391.1,264.7 391.5,265.0 391.8,265.1 392.1,264.7 392.4,263.9 392.8,263.9 393.1,264.6 393.4,264.7 393.7,265.6 394.0,264.1 394.3,265.0 394.6,264.8 394.9,263.7 395.2,264.1 395.5,264.6 395.9,264.3 396.2,264.4 396.6,264.7 396.9,264.1 397.2,264.7 397.6,264.2 397.9,264.3 398.2,264.7 398.5,264.2 398.9,264.6 399.2,265.2 399.5,264.5 399.8,264.4 400.1,264.8 400.4,264.3 400.7,265.0 401.0,263.9 401.3,264.8 401.6,264.3 402.0,264.1 402.3,265.3 402.6,264.1 403.0,265.3 403.3,264.8 403.6,265.2 404.0,264.1 404.3,265.0 404.6,265.2 404.9,264.4 405.2,264.4 405.5,265.6 405.8,264.6 406.2,264.3 406.5,264.2 406.8,264.7 407.1,264.6 407.4,264.6 407.7,265.3 408.0,264.4 408.4,264.7 408.7,265.2 409.0,264.0 409.3,265.0 409.6,265.3 410.0,263.9 410.3,264.0 410.6,264.0 410.9,263.7 411.2,264.7 411.5,263.7 411.8,264.7 412.1,265.2 412.4,263.8 412.8,264.4 413.1,263.6 413.4,264.9 413.7,264.2 414.0,264.4 414.4,264.5 414.7,264.7 415.0,264.3 415.3,264.5 415.6,264.3 415.9,264.6 416.2,264.0 416.5,264.5 416.8,263.6 417.2,264.3 417.5,265.4 417.8,264.5 418.1,263.9 418.4,264.6 418.8,264.1 419.1,263.8 419.4,264.2 419.7,264.8 420.0,264.7 420.3,264.5 420.6,264.1 420.9,264.0 421.2,265.1 421.6,264.6 421.9,264.1 422.2,263.6 422.5,263.9 422.8,265.6 423.1,264.0 423.4,264.5 423.7,264.6 424.0,264.4 424.3,264.4 424.7,263.9 425.0,264.0 425.3,265.3 425.6,264.2 425.9,264.9 426.2,263.7 426.5,264.4 426.9,264.6 427.2,265.0 427.5,264.0 427.8,264.8 428.1,264.7 428.4,264.2 428.7,264.7 429.0,264.1 429.3,264.1 429.7,264.5 430.0,263.3"/>
<polyline fill="none" stroke="none" marker-start="url(#m2)" marker-mid="url(#m2)" marker-end="url(#m2)" points="70.5,32.9 102.7,44.8 121.5,54.0 134.9,61.1 145.3,67.1 153.8,72.6 161.0,77.6 167.2,82.4 172.6,86.9 177.6,91.3 182.0,95.5 186.0,99.6 189.8,103.5 193.2,107.3 196.4,111.0 199.4,114.6 202.2,118.1 204.9,121.5 207.4,124.8 209.8,128.0 212.1,131.1 214.2,134.1 216.3,137.1 218.3,139.9 220.2,142.7 222.0,145.5 223.7,148.1 225.4,150.7 227.1,153.3 228.6,155.8 230.2,158.2 231.7,160.5 233.1,162.8 234.5,165.1 235.8,167.3 237.1,169.4 238.4,171.5 239.6,173.6 240.9,175.6 242.0,177.6 243.2,179.3"/>
<polyline fill="none" stroke="none" marker-start="url(#d2)" marker-mid="url(#d2)" marker-end="url(#d2)" points="244.3,181.3 245.4,183.2 246.5,185.0 247.5,186.8 248.5,188.4 249.5,190.0 250.5,191.6 251.5,193.1 252.4,194.9 253.3,196.5 254.2,198.0 255.1,199.4 256.0,200.8 256.8,202.3 257.7,203.6 258.5,205.0 259.3,206.3 260.1,207.5 260.9,208.9 261.7,209.9 262.4,211.1 263.2,212.2 263.9,213.4 264.6,214.8 265.3,216.0 266.0,216.8 266.7,217.9 267.4,219.0 268.1,220.0 268.7,221.0 269.4,221.6 270.0,222.6 270.6,223.7 271.3,224.7 271.9,225.4 272.5,226.1 273.1,227.0 273.7,227.8 274.3,228.6 274.8,229.7 275.4,230.2 276.0,231.0 276.5,232.1 277.1,232.7 277.6,233.2 278.2,233.7 278.7,234.6 279.2,235.5 279.7,235.9 280.3,236.7 280.8,237.1 281.3,237.8 281.8,238.2 282.3,238.9 282.8,239.6 283.2,239.7 283.7,240.5 284.2,241.1 284.6,241.4 285.1,242.0 285.6,242.7 286.0,243.4 286.5,243.6 286.9,244.0 287.4,244.1 287.8,245.2 288.2,245.3 288.7,245.7 289.1,245.9 289.5,246.5 289.9,246.7 290.3,247.3 290.7,247.7 291.2,248.0 291.6,248.4 292.0,248.6 292.3,249.4 292.7,249.3 293.1,249.4 293.5,250.0 293.9,250.2 294.3,250.5 294.7,250.9 295.0,251.4 295.4,251.3 295.8,251.8 296.1,252.4 296.5,252.6 296.9,252.6 297.2,253.0 297.6,253.2 297.9,253.4 298.3,253.8 298.6,253.9 299.0,253.6 299.3,254.4 299.6,254.4 300.0,255.0 300.3,254.9 300.6,255.3 301.0,255.9 301.3,255.4 301.6,255.6 301.9,255.7 302.3,255.7 302.6,256.0 302.9,256.7 303.2,256.6 303.5,256.5 303.8,256.7 304.1,257.4 304.4,257.2 304.7,257.5 305.0,257.8 305.6,258.4 306.2,258.8 306.8,258.9 307.4,258.9 307.9,259.1 308.5,259.9 309.1,260.0 309.6,259.6 310.1,260.1 310.7,260.3 311.2,260.3 311.7,260.3 312.2,260.1 312.8,260.6 313.3,260.3 313.8,261.7 314.3,261.5 314.7,260.9 315.2,262.2 315.7,262.1 316.2,261.0 316.7,262.8 317.1,262.4 317.6,263.1 318.0,261.7 318.5,262.6 318.9,262.6 319.4,262.6 319.8,262.7 320.3,263.2 320.7,262.1 321.1,262.3 321.5,262.3 322.0,262.7 322.4,262.8 322.8,263.3 323.2,263.3 323.6,263.3 324.0,263.0 324.4,263.1 324.8,263.8 325.2,263.8 325.6,263.5 325.9,263.4 326.3,264.3 326.7,263.3 327.1,263.9 327.5,264.2 327.8,263.6 328.2,264.1 328.6,263.3 328.9,264.3 329.3,263.9 329.6,263.2 330.0,264.2 330.3,263.5 330.7,264.5 331.0,263.7 331.4,263.9 331.7,264.2 332.0,263.9 332.4,264.2 332.7,263.8 333.0,264.4 333.4,264.1 333.7,264.2 334.0,262.9 334.3,264.7 334.7,264.2 335.0,263.4 335.3,264.3 335.6,264.4 335.9,264.7 336.2,263.8 336.5,265.0 336.8,264.2 337.1,265.4 337.4,264.2 337.9,264.6 338.3,264.1 338.8,263.8 339.2,264.8 339.6,264.8 340.0,265.0 340.5,264.8 340.9,264.1 341.3,263.6 341.7,264.1 342.1,264.1 342.5,264.0 342.9,264.7 343.3,264.6 343.7,264.3 344.1,264.5 344.5,264.4 344.9,264.5 345.3,264.8 345.6,264.9 346.0,264.1 346.4,263.8 346.7,265.1 347.1,264.5 347.5,265.0 347.8,263.7 348.2,264.3 348.5,264.5 348.9,263.8 349.2,264.2 349.6,264.8 349.9,265.0 350.3,265.2 350.6,264.1 351.0,263.8 351.3,264.7 351.6,264.9 352.0,264.6 352.3,263.9 352.6,264.8 352.9,264.8 353.2,264.7 353.6,264.3 353.9,264.6 354.2,264.8 354.5,264.2 354.8,263.7 355.1,264.6 355.4,264.7 355.7,264.5 356.0,264.9 356.4,264.2 356.8,264.5 357.2,264.4 357.6,264.8 358.0,265.2 358.4,264.4 358.8,265.4 359.1,265.2 359.5,264.9 359.9,264.8 360.2,265.3 360.6,264.4 361.0,264.4 361.3,264.0 361.7,264.7 362.0,265.1 362.4,264.7 362.7,264.7 363.1,264.4 363.4,264.6 363.8,263.9 364.1,265.0 364.4,264.3 364.8,264.0 365.1,264.2 365.4,264.1 365.8,264.9 366.1,265.0 366.4,263.9 366.7,264.9 367.1,264.9 367.4,264.2 367.7,263.8 368.0,264.2 368.3,264.2 368.6,264.7 368.9,264.3 369.2,263.6 369.5,264.6 369.9,263.8 370.3,264.9 370.6,264.0 371.0,264.2 371.4,264.1 371.7,264.3 372.1,265.1 372.4,264.9 372.8,264.8 373.1,264.6 373.5,263.8 373.8,264.3 374.2,264.3 374.5,264.1 374.8,264.7 375.2,264.2 375.5,264.2 375.8,264.0 376.1,263.6 376.5,264.8 376.8,265.1 377.1,264.6 377.4,264.1 377.7,263.3 378.1,264.6 378.4,265.0 378.7,264.6 379.0,264.9 379.3,265.2 379.6,265.0 379.9,264.3 380.3,265.0 380.6,264.8 381.0,263.8 381.3,264.3 381.7,263.9 382.0,264.5 382.3,264.8 382.7,264.0 383.0,263.6 383.4,265.1 383.7,264.7 384.0,265.2 384.4,263.9 384.7,265.0 385.0,265.4 385.3,265.4 385.6,264.4 386.0,264.6 386.3,264.4 386.6,264.9 386.9,265.0 387.2,264.5 387.5,263.9 387.8,264.8 388.1,264.3 388.4,264.8 388.8,264.6 389.1,265.2 389.5,265.0 389.8,264.3 390.1,264.7 390.5,265.3 390.8,264.3 391.1,264.7 391.5,265.0 391.8,265.1 392.1,264.7 392.4,263.9 392.8,263.9 393.1,264.6 393.4,264.7 393.7,265.6 394.0,264.1 394.3,265.0 394.6,264.8 394.9,263.7 395.2,264.1 395.5,264.6 395.9,264.3 396.2,264.4 396.6,264.7 396.9,264.1 397.2,264.7 397.6,264.2 397.9,264.3 398.2,264.7 398.5,264.2 398.9,264.6 399.2,265.2 399.5,264.5 399.8,264.4 400.1,264.8 400.4,264.3 400.7,265.0 401.0,263.9 401.3,264.8 401.6,264.3 402.0,264.1 402.3,265.3 402.6,264.1 403.0,265.3 403.3,264.8 403.6,265.2 404.0,264.1 404.3,265.0 404.6,265.2 404.9,264.4 405.2,264.4 405.5,265.6 405.8,264.6 406.2,264.3 406.5,264.2 406.8,264.7 407.1,264.6 407.4,264.6 407.7,265.3 408.0,264.4 408.4,264.7 408.7,265.2 409.0,264.0 409.3,265.0 409.6,265.3 410.0,263.9 410.3,264.0 410.6,264.0 410.9,263.7 411.2,264.7 411.5,263.7 411.8,264.7 412.1,265.2 412.4,263.8 412.8,264.4 413.1,263.6 413.4,264.9 413.7,264.2 414.0,264.4 414.4,264.5 414.7,264.7 415.0,264.3 415.3,264.5 415.6,264.3 415.9,264.6 416.2,264.0 416.5,264.5 416.8,263.6 417.2,264.3 417.5,265.4 417.8,264.5 418.1,263.9 418.4,264.6 418.8,264.1 419.1,263.8 419.4,264.2 419.7,264.8 420.0,264.7 420.3,264.5 420.6,264.1 420.9,264.0 421.2,265.1 421.6,264.6 421.9,264.1 422.2,263.6 422.5,263.9 422.8,265.6 423.1,264.0 423.4,264.5 423.7,264.6 424.0,264.4 424.3,264.4 424.7,263.9 425.0,264.0 425.3,265.3 425.6,264.2 425.9,264.9 426.2,263.7 426.5,264.4 426.9,264.6 427.2,265.0 427.5,264.0 427.8,264.8 428.1,264.7 428.4,264.2 428.7,264.7 429.0,264.1 429.3,264.1 429.7,264.5 430.0,263.3"/>
<polyline clip-path="url(#cp)" fill="none" stroke="#0000ff" stroke-width="0.9" points="51.5,26.1 70.5,33.2 102.7,46.3 121.5,57.6 134.9,67.2 145.3,75.4 153.8,82.7 161.0,89.3 167.2,95.5 172.6,101.3 177.6,106.8 182.0,112.0 186.0,117.0 189.8,121.9 193.2,126.5 196.4,131.0 199.4,135.4 202.2,139.6 204.9,143.6 207.4,147.6 209.8,151.4 212.1,155.1 214.2,158.7 216.3,162.2 218.3,165.5 220.2,168.8 222.0,172.0 223.7,175.0 225.4,178.0 227.1,180.9 228.6,183.7 230.2,186.4 231.7,189.0 233.1,191.5 234.5,194.0 235.8,196.4 237.1,198.7 238.4,200.9 239.6,203.1 240.9,205.2 242.0,207.2 243.2,209.0 244.3,211.0 245.4,212.9 246.5,214.6 247.5,216.5 248.5,218.0 249.5,219.8 250.5,221.1 251.5,222.5 252.4,224.4 253.3,225.7 254.2,227.1 255.1,228.4 256.0,229.7 256.8,230.7 257.7,232.2 258.5,233.2 259.3,234.5 260.1,235.5 260.9,236.3 261.7,237.4 262.4,238.7 263.2,239.5 263.9,240.4 264.6,241.4 265.3,242.1 266.0,242.9 266.7,243.8 267.4,244.6 268.1,245.6 268.7,246.1 269.4,247.1 270.0,247.8 270.6,248.4 271.3,248.9 271.9,249.4 272.5,250.0 273.1,250.5 273.7,251.0 274.3,251.6 274.8,252.1 275.4,252.9 276.0,253.2 276.5,253.5 277.1,253.7 277.6,254.5 278.2,254.8 278.7,255.1 279.2,255.5 279.7,255.7 280.3,256.5 280.8,256.8 281.3,257.6 281.8,257.4 282.3,257.7 282.8,258.4 283.2,258.4 283.7,258.7 284.2,258.8 284.6,259.0 285.1,259.9 285.6,260.0 286.0,260.6 286.5,260.0 286.9,260.4 287.4,260.2 287.8,261.2 288.2,260.3 288.7,261.4 289.1,261.8 289.5,262.1 289.9,261.2 290.3,262.3 290.7,261.6 291.2,261.8 291.6,261.7 292.0,262.9 292.3,263.3 292.7,262.4 293.1,262.4 293.5,262.7 293.9,264.1 294.3,263.5 294.7,263.0 295.0,262.5 295.4,263.1 295.8,264.0 296.1,264.4 296.5,263.5 296.9,263.4 297.2,263.6 297.6,263.0 297.9,264.3 298.3,263.5 298.6,264.5 299.0,263.4 299.3,263.6 299.6,264.4 300.0,264.0 300.3,264.7 300.6,264.4 301.0,263.9 301.3,264.8 301.6,264.9 301.9,263.6 302.3,265.3 302.6,264.7 302.9,264.8 303.2,263.7 303.5,264.2 303.8,264.3 304.1,265.0 304.4,263.8 304.7,264.1 305.0,263.6 305.6,264.4 306.2,264.7 306.8,263.7 307.4,264.2 307.9,264.7 308.5,265.2 309.1,264.8 309.6,264.4 310.1,264.0 310.7,264.1 311.2,264.2 311.7,264.6 312.2,264.5 312.8,265.3 313.3,264.6 313.8,264.0 314.3,265.2 314.7,264.9 315.2,264.5 315.7,264.2 316.2,263.7 316.7,264.0 317.1,264.9 317.6,264.1 318.0,263.9 318.5,264.6 318.9,264.6 319.4,264.8 319.8,264.8 320.3,265.1 320.7,264.1 321.1,264.9 321.5,264.1 322.0,264.8 322.4,264.6 322.8,264.6 323.2,264.9 323.6,264.5 324.0,265.0 324.4,264.9 324.8,264.6 325.2,264.2 325.6,264.2 325.9,264.3 326.3,264.4 326.7,264.5 327.1,265.8 327.5,264.8 327.8,264.8 328.2,264.1 328.6,264.2 328.9,264.4 329.3,264.6 329.6,264.0 330.0,265.2 330.3,264.2 330.7,265.0 331.0,263.4 331.4,264.5 331.7,264.6 332.0,264.6 332.4,264.8 332.7,264.6 333.0,264.6 333.4,263.6 333.7,264.2 334.0,263.4 334.3,264.8 334.7,264.6 335.0,264.4 335.3,264.1 335.6,264.2 335.9,265.3 336.2,265.3 336.5,264.5 336.8,265.1 337.1,263.8 337.4,263.6 337.9,264.3 338.3,264.1 338.8,264.2 339.2,264.6 339.6,265.9 340.0,264.2 340.5,264.5 340.9,264.6 341.3,264.5 341.7,264.9 342.1,265.3 342.5,263.9 342.9,264.6 343.3,264.4 343.7,264.7 344.1,263.8 344.5,263.7 344.9,263.5 345.3,264.7 345.6,264.6 346.0,264.5 346.4,263.4 346.7,264.3 347.1,264.2 347.5,263.9 347.8,264.1 348.2,264.8 348.5,264.7 348.9,264.5 349.2,264.7 349.6,264.2 349.9,264.5 350.3,264.5 350.6,264.7 351.0,264.5 351.3,264.4 351.6,264.4 352.0,264.2 352.3,265.5 352.6,264.7 352.9,264.7 353.2,265.5 353.6,265.1 353.9,263.8 354.2,264.8 354.5,264.9 354.8,265.3 355.1,265.1 355.4,264.8 355.7,264.0 356.0,264.1 356.4,264.6 356.8,264.7 357.2,264.0 357.6,264.3 358.0,264.3 358.4,264.5 358.8,264.7 359.1,264.4 359.5,263.9 359.9,265.1 360.2,265.2 360.6,264.5 361.0,265.0 361.3,264.7 361.7,264.8 362.0,264.7 362.4,264.2 362.7,264.8 363.1,265.0 363.4,264.1 363.8,265.4 364.1,265.4 364.4,265.3 364.8,265.4 365.1,264.8 365.4,264.3 365.8,264.2 366.1,264.1 366.4,264.6 366.7,264.5 367.1,264.8 367.4,263.6 367.7,265.5 368.0,265.5 368.3,264.5 368.6,264.8 368.9,264.7 369.2,264.6 369.5,264.4 369.9,264.4 370.3,264.1 370.6,264.6 371.0,264.5 371.4,264.6 371.7,264.1 372.1,264.5 372.4,264.5 372.8,264.8 373.1,264.0 373.5,264.7 373.8,264.9 374.2,264.8 374.5,264.3 374.8,264.3 375.2,264.4 375.5,264.8 375.8,265.2 376.1,264.4 376.5,264.2 376.8,264.7 377.1,264.6 377.4,264.1 377.7,264.2 378.1,264.5 378.4,264.8 378.7,264.0 379.0,264.0 379.3,264.7 379.6,263.9 379.9,264.5 380.3,264.7 380.6,264.5 381.0,264.0 381.3,264.5 381.7,264.4 382.0,264.7 382.3,264.1 382.7,265.0 383.0,263.7 383.4,264.4 383.7,264.5 384.0,264.9 384.4,264.2 384.7,264.7 385.0,264.2 385.3,264.8 385.6,265.3 386.0,264.3 386.3,264.7 386.6,264.1 386.9,264.9 387.2,265.0 387.5,264.5 387.8,264.0 388.1,264.7 388.4,265.0 388.8,265.0 389.1,264.9 389.5,263.7 389.8,264.2 390.1,265.1 390.5,263.9 390.8,265.0 391.1,265.3 391.5,264.8 391.8,265.0 392.1,264.4 392.4,263.9 392.8,264.5 393.1,264.4 393.4,264.5 393.7,264.8 394.0,264.4 394.3,264.6 394.6,264.7 394.9,264.5 395.2,265.3 395.5,264.7 395.9,264.5 396.2,264.4 396.6,264.2 396.9,265.1 397.2,264.6 397.6,264.0 397.9,264.2 398.2,264.4 398.5,264.3 398.9,265.0 399.2,264.0 399.5,264.7 399.8,264.6 400.1,264.0 400.4,264.5 400.7,264.5 401.0,264.7 401.3,264.3 401.6,264.6 402.0,263.8 402.3,264.0 402.6,264.9 403.0,265.0 403.3,264.5 403.6,264.2 404.0,265.0 404.3,263.6 404.6,264.1 404.9,264.8 405.2,264.8 405.5,264.0 405.8,263.7 406.2,265.2 406.5,264.6 406.8,264.1 407.1,264.5 407.4,264.9 407.7,263.3 408.0,265.0 408.4,264.8 408.7,263.6 409.0,264.8 409.3,263.7 409.6,265.0 410.0,264.7 410.3,265.5 410.6,264.2 410.9,264.5 411.2,265.0 411.5,264.2 411.8,264.2 412.1,264.3 412.4,264.5 412.8,264.0 413.1,264.7 413.4,264.7 413.7,264.5 414.0,265.3 414.4,264.4 414.7,265.1 415.0,264.3 415.3,264.8 415.6,263.6 415.9,264.6 416.2,264.4 416.5,264.3 416.8,264.2 417.2,264.3 417.5,264.2 417.8,263.5 418.1,264.2 418.4,264.3 418.8,264.3 419.1,264.0 419.4,264.4 419.7,264.9 420.0,264.4 420.3,264.3 420.6,265.1 420.9,264.9 421.2,264.9 421.6,265.0 421.9,264.4 422.2,264.4 422.5,265.0 422.8,264.3 423.1,264.4 423.4,264.7 423.7,264.7 424.0,264.4 424.3,264.9 424.7,264.4 425.0,264.8 425.3,265.0 425.6,264.8 425.9,264.8 426.2,264.0 426.5,263.9 426.9,264.2 427.2,264.7 427.5,265.2 427.8,263.9 428.1,264.6 428.4,264.1 428.7,264.2 429.0,264.4 429.3,264.8 429.7,264.6 430.0,265.0"/>
<polyline fill="none" stroke="none" marker-start="url(#m3)" marker-mid="url(#m3)" marker-end="url(#m3)" points="70.5,33.2 102.7,46.3 121.5,57.6 134.9,67.2 145.3,75.4 153.8,82.7 161.0,89.3 167.2,95.5 172.6,101.3 177.6,106.8 182.0,112.0 186.0,117.0 189.8,121.9 193.2,126.5 196.4,131.0 199.4,135.4 202.2,139.6 204.9,143.6 207.4,147.6 209.8,151.4 212.1,155.1 214.2,158.7 216.3,162.2 218.3,165.5 220.2,168.8 222.0,172.0 223.7,175.0 225.4,178.0 227.1,180.9 228.6,183.7 230.2,186.4 231.7,189.0 233.1,191.5 234.5,194.0 235.8,196.4 237.1,198.7 238.4,200.9 239.6,203.1 240.9,205.2 242.0,207.2 243.2,209.0"/>
<polyline fill="none" stroke="none" marker-start="url(#d3)" marker-mid="url(#d3)" marker-end="url(#d3)" points="244.3,211.0 245.4,212.9 246.5,214.6 247.5,216.5 248.5,218.0 249.5,219.8 250.5,221.1 251.5,222.5 252.4,224.4 253.3,225.7 254.2,227.1 255.1,228.4 256.0,229.7 256.8,230.7 257.7,232.2 258.5,233.2 259.3,234.5 260.1,235.5 260.9,236.3 261.7,237.4 262.4,238.7 263.2,239.5 263.9,240.4 264.6,241.4 265.3,242.1 266.0,242.9 266.7,243.8 267.4,244.6 268.1,245.6 268.7,246.1 269.4,247.1 270.0,247.8 270.6,248.4 271.3,248.9 271.9,249.4 272.5,250.0 273.1,250.5 273.7,251.0 274.3,251.6 274.8,252.1 275.4,252.9 276.0,253.2 276.5,253.5 277.1,253.7 277.6,254.5 278.2,254.8 278.7,255.1 279.2,255.5 279.7,255.7 280.3,256.5 280.8,256.8 281.3,257.6 281.8,257.4 282.3,257.7 282.8,258.4 283.2,258.4 283.7,258.7 284.2,258.8 284.6,259.0 285.1,259.9 285.6,260.0 286.0,260.6 286.5,260.0 286.9,260.4 287.4,260.2 287.8,261.2 288.2,260.3 288.7,261.4 289.1,261.8 289.5,262.1 289.9,261.2 290.3,262.3 290.7,261.6 291.2,261.8 291.6,261.7 292.0,262.9 292.3,263.3 292.7,262.4 293.1,262.4 293.5,262.7 293.9,264.1 294.3,263.5 294.7,263.0 295.0,262.5 295.4,263.1 295.8,264.0 296.1,264.4 296.5,263.5 296.9,263.4 297.2,263.6 297.6,263.0 297.9,264.3 298.3,263.5 298.6,264.5 299.0,263.4 299.3,263.6 299.6,264.4 300.0,264.0 300.3,264.7 300.6,264.4 301.0,263.9 301.3,264.8 301.6,264.9 301.9,263.6 302.3,265.3 302.6,264.7 302.9,264.8 303.2,263.7 303.5,264.2 303.8,264.3 304.1,265.0 304.4,263.8 304.7,264.1 305.0,263.6 305.6,264.4 306.2,264.7 306.8,263.7 307.4,264.2 307.9,264.7 308.5,265.2 309.1,264.8 309.6,264.4 310.1,264.0 310.7,264.1 311.2,264.2 311.7,264.6 312.2,264.5 312.8,265.3 313.3,264.6 313.8,264.0 314.3,265.2 314.7,264.9 315.2,264.5 315.7,264.2 316.2,263.7 316.7,264.0 317.1,264.9 317.6,264.1 318.0,263.9 318.5,264.6 318.9,264.6 319.4,264.8 319.8,264.8 320.3,265.1 320.7,264.1 321.1,264.9 321.5,264.1 322.0,264.8 322.4,264.6 322.8,264.6 323.2,264.9 323.6,264.5 324.0,265.0 324.4,264.9 324.8,264.6 325.2,264.2 325.6,264.2 325.9,264.3 326.3,264.4 326.7,264.5 327.1,265.8 327.5,264.8 327.8,264.8 328.2,264.1 328.6,264.2 328.9,264.4 329.3,264.6 329.6,264.0 330.0,265.2 330.3,264.2 330.7,265.0 331.0,263.4 331.4,264.5 331.7,264.6 332.0,264.6 332.4,264.8 332.7,264.6 333.0,264.6 333.4,263.6 333.7,264.2 334.0,263.4 334.3,264.8 334.7,264.6 335.0,264.4 335.3,264.1 335.6,264.2 335.9,265.3 336.2,265.3 336.5,264.5 336.8,265.1 337.1,263.8 337.4,263.6 337.9,264.3 338.3,264.1 338.8,264.2 339.2,264.6 339.6,265.9 340.0,264.2 340.5,264.5 340.9,264.6 341.3,264.5 341.7,264.9 342.1,265.3 342.5,263.9 342.9,264.6 343.3,264.4 343.7,264.7 344.1,263.8 344.5,263.7 344.9,263.5 345.3,264.7 345.6,264.6 346.0,264.5 346.4,263.4 346.7,264.3 347.1,264.2 347.5,263.9 347.8,264.1 348.2,264.8 348.5,264.7 348.9,264.5 349.2,264.7 349.6,264.2 349.9,264.5 350.3,264.5 350.6,264.7 351.0,264.5 351.3,264.4 351.6,264.4 352.0,264.2 352.3,265.5 352.6,264.7 352.9,264.7 353.2,265.5 353.6,265.1 353.9,263.8 354.2,264.8 354.5,264.9 354.8,265.3 355.1,265.1 355.4,264.8 355.7,264.0 356.0,264.1 356.4,264.6 356.8,264.7 357.2,264.0 357.6,264.3 358.0,264.3 358.4,264.5 358.8,264.7 359.1,264.4 359.5,263.9 359.9,265.1 360.2,265.2 360.6,264.5 361.0,265.0 361.3,264.7 361.7,264.8 362.0,264.7 362.4,264.2 362.7,264.8 363.1,265.0 363.4,264.1 363.8,265.4 364.1,265.4 364.4,265.3 364.8,265.4 365.1,264.8 365.4,264.3 365.8,264.2 366.1,264.1 366.4,264.6 366.7,264.5 367.1,264.8 367.4,263.6 367.7,265.5 368.0,265.5 368.3,264.5 368.6,264.8 368.9,264.7 369.2,264.6 369.5,264.4 369.9,264.4 370.3,264.1 370.6,264.6 371.0,264.5 371.4,264.6 371.7,264.1 372.1,264.5 372.4,264.5 372.8,264.8 373.1,264.0 373.5,264.7 373.8,264.9 374.2,264.8 374.5,264.3 374.8,264.3 375.2,264.4 375.5,264.8 375.8,265.2 376.1,264.4 376.5,264.2 376.8,264.7 377.1,264.6 377.4,264.1 377.7,264.2 378.1,264.5 378.4,264.8 378.7,264.0 379.0,264.0 379.3,264.7 379.6,263.9 379.9,264.5 380.3,264.7 380.6,264.5 381.0,264.0 381.3,264.5 381.7,264.4 382.0,264.7 382.3,264.1 382.7,265.0 383.0,263.7 383.4,264.4 383.7,264.5 384.0,264.9 384.4,264.2 384.7,264.7 385.0,264.2 385.3,264.8 385.6,265.3 386.0,264.3 386.3,264.7 386.6,264.1 386.9,264.9 387.2,265.0 387.5,264.5 387.8,264.0 388.1,264.7 388.4,265.0 388.8,265.0 389.1,264.9 389.5,263.7 389.8,264.2 390.1,265.1 390.5,263.9 390.8,265.0 391.1,265.3 391.5,264.8 391.8,265.0 392.1,264.4 392.4,263.9 392.8,264.5 393.1,264.4 393.4,264.5 393.7,264.8 394.0,264.4 394.3,264.6 394.6,264.7 394.9,264.5 395.2,265.3 395.5,264.7 395.9,264.5 396.2,264.4 396.6,264.2 396.9,265.1 397.2,264.6 397.6,264.0 397.9,264.2 398.2,264.4 398.5,264.3 398.9,265.0 399.2,264.0 399.5,264.7 399.8,264.6 400.1,264.0 400.4,264.5 400.7,264.5 401.0,264.7 401.3,264.3 401.6,264.6 402.0,263.8 402.3,264.0 402.6,264.9 403.0,265.0 403.3,264.5 403.6,264.2 404.0,265.0 404.3,263.6 404.6,264.1 404.9,264.8 405.2,264.8 405.5,264.0 405.8,263.7 406.2,265.2 406.5,264.6 406.8,264.1 407.1,264.5 407.4,264.9 407.7,263.3 408.0,265.0 408.4,264.8 408.7,263.6 409.0,264.8 409.3,263.7 409.6,265.0 410.0,264.7 410.3,265.5 410.6,264.2 410.9,264.5 411.2,265.0 411.5,264.2 411.8,264.2 412.1,264.3 412.4,264.5 412.8,264.0 413.1,264.7 413.4,264.7 413.7,264.5 414.0,265.3 414.4,264.4 414.7,265.1 415.0,264.3 415.3,264.8 415.6,263.6 415.9,264.6 416.2,264.4 416.5,264.3 416.8,264.2 417.2,264.3 417.5,264.2 417.8,263.5 418.1,264.2 418.4,264.3 418.8,264.3 419.1,264.0 419.4,264.4 419.7,264.9 420.0,264.4 420.3,264.3 420.6,265.1 420.9,264.9 421.2,264.9 421.6,265.0 421.9,264.4 422.2,264.4 422.5,265.0 422.8,264.3 423.1,264.4 423.4,264.7 423.7,264.7 424.0,264.4 424.3,264.9 424.7,264.4 425.0,264.8 425.3,265.0 425.6,264.8 425.9,264.8 426.2,264.0 426.5,263.9 426.9,264.2 427.2,264.7 427.5,265.2 427.8,263.9 428.1,264.6 428.4,264.1 428.7,264.2 429.0,264.4 429.3,264.8 429.7,264.6 430.0,265.0"/>
<polyline clip-path="url(#cp)" fill="none" stroke="#ffa500" stroke-width="0.9" points="51.5,26.8 70.5,34.8 102.7,51.4 121.5,64.4 134.9,75.1 145.3,84.3 153.8,92.7 161.0,100.5 167.2,107.8 172.6,114.8 177.6,121.5 182.0,127.8 186.0,133.9 189.8,139.7 193.2,145.3 196.4,150.7 199.4,155.8 202.2,160.7 204.9,165.4 207.4,169.9 209.8,174.2 212.1,178.4 214.2,182.3 216.3,186.1 218.3,189.7 220.2,193.2 222.0,196.5 223.7,199.7 225.4,202.7 227.1,205.7 228.6,208.5 230.2,211.1 231.7,213.7 233.1,216.1 234.5,218.5 235.8,220.7 237.1,222.8 238.4,224.9 239.6,226.8 240.9,228.7 242.0,230.5 243.2,232.2 244.3,233.8 245.4,235.4 246.5,236.7 247.5,237.9 248.5,239.6 249.5,240.8 250.5,242.1 251.5,243.4 252.4,244.2 253.3,245.4 254.2,246.5 255.1,247.4 256.0,248.5 256.8,249.3 257.7,250.1 258.5,250.9 259.3,251.9 260.1,252.4 260.9,253.3 261.7,254.0 262.4,254.3 263.2,255.0 263.9,255.7 264.6,256.3 265.3,256.9 266.0,257.4 266.7,258.0 267.4,258.1 268.1,258.6 268.7,259.3 269.4,259.3 270.0,260.2 270.6,259.5 271.3,260.7 271.9,260.7 272.5,260.2 273.1,261.8 273.7,261.7 274.3,261.8 274.8,261.6 275.4,262.1 276.0,263.2 276.5,262.3 277.1,261.3 277.6,262.7 278.2,262.7 278.7,263.3 279.2,263.4 279.7,263.3 280.3,263.4 280.8,264.4 281.3,263.4 281.8,265.1 282.3,264.0 282.8,263.9 283.2,264.8 283.7,264.8 284.2,264.0 284.6,264.8 285.1,263.7 285.6,264.1 286.0,265.0 286.5,264.4 286.9,263.9 287.4,264.7 287.8,264.9 288.2,264.5 288.7,263.7 289.1,264.3 289.5,264.7 289.9,264.8 290.3,265.3 290.7,264.4 291.2,264.3 291.6,264.5 292.0,265.0 292.3,264.1 292.7,265.1 293.1,263.3 293.5,264.9 293.9,264.2 294.3,264.7 294.7,264.8 295.0,264.0 295.4,264.5 295.8,264.6 296.1,264.8 296.5,264.1 296.9,264.1 297.2,263.6 297.6,265.6 297.9,264.4 298.3,264.4 298.6,263.8 299.0,264.9 299.3,264.3 299.6,265.1 300.0,264.9 300.3,264.5 300.6,264.8 301.0,264.0 301.3,264.4 301.6,264.2 301.9,263.9 302.3,264.5 302.6,264.4 302.9,265.1 303.2,263.0 303.5,264.2 303.8,264.1 304.1,264.3 304.4,264.7 304.7,264.7 305.0,264.5 305.6,264.3 306.2,264.7 306.8,264.7 307.4,263.7 307.9,264.4 308.5,263.9 309.1,264.0 309.6,264.6 310.1,264.5 310.7,264.6 311.2,264.1 311.7,264.4 312.2,264.1 312.8,264.7 313.3,264.8 313.8,265.3 314.3,265.1 314.7,264.1 315.2,264.3 315.7,264.1 316.2,264.6 316.7,265.4 317.1,264.8 317.6,263.5 318.0,263.9 318.5,263.9 318.9,264.7 319.4,264.5 319.8,264.6 320.3,265.3 320.7,264.1 321.1,264.1 321.5,265.4 322.0,264.7 322.4,264.1 322.8,263.6 323.2,263.8 323.6,263.4 324.0,264.5 324.4,264.5 324.8,264.9 325.2,264.4 325.6,264.2 325.9,264.2 326.3,265.4 326.7,263.7 327.1,264.6 327.5,264.5 327.8,264.8 328.2,264.3 328.6,264.7 328.9,264.9 329.3,264.4 329.6,264.3 330.0,264.4 330.3,264.1 330.7,264.4 331.0,264.4 331.4,264.6 331.7,265.1 332.0,265.1 332.4,264.3 332.7,264.8 333.0,264.6 333.4,264.8 333.7,264.5 334.0,264.6 334.3,264.3 334.7,264.1 335.0,264.9 335.3,265.1 335.6,264.8 335.9,264.7 336.2,264.6 336.5,264.3 336.8,263.7 337.1,264.8 337.4,264.6 337.9,264.3 338.3,264.1 338.8,265.1 339.2,263.7 339.6,265.3 340.0,264.8 340.5,265.6 340.9,264.2 341.3,264.5 341.7,264.3 342.1,264.6 342.5,264.4 342.9,264.2 343.3,265.0 343.7,264.1 344.1,264.3 344.5,264.7 344.9,264.3 345.3,264.3 345.6,264.7 346.0,264.3 346.4,263.9 346.7,264.5 347.1,264.4 347.5,265.3 347.8,264.0 348.2,264.9 348.5,264.1 348.9,264.3 349.2,264.4 349.6,264.6 349.9,264.9 350.3,265.3 350.6,264.2 351.0,265.1 351.3,264.9 351.6,264.9 352.0,264.2 352.3,264.9 352.6,264.5 352.9,264.7 353.2,264.4 353.6,264.8 353.9,265.0 354.2,265.0 354.5,264.4 354.8,264.9 355.1,265.2 355.4,264.1 355.7,265.2 356.0,263.9 356.4,264.7 356.8,264.8 357.2,265.2 357.6,264.6 358.0,264.3 358.4,264.1 358.8,263.9 359.1,264.8 359.5,264.4 359.9,264.2 360.2,264.7 360.6,264.2 361.0,264.3 361.3,264.3 361.7,265.2 362.0,265.2 362.4,264.4 362.7,263.8 363.1,264.6 363.4,264.5 363.8,264.7 364.1,264.8 364.4,264.4 364.8,264.9 365.1,264.9 365.4,264.6 365.8,264.3 366.1,264.3 366.4,264.8 366.7,264.0 367.1,264.4 367.4,264.2 367.7,263.9 368.0,264.8 368.3,264.5 368.6,264.5 368.9,264.9 369.2,263.8 369.5,264.5 369.9,264.6 370.3,264.9 370.6,264.0 371.0,264.8 371.4,264.6 371.7,265.1 372.1,265.0 372.4,264.7 372.8,265.5 373.1,264.5 373.5,264.3 373.8,264.3 374.2,264.1 374.5,264.5 374.8,263.7 375.2,264.5 375.5,264.7 375.8,264.9 376.1,264.3 376.5,265.1 376.8,264.2 377.1,264.4 377.4,263.7 377.7,264.2 378.1,264.1 378.4,265.2 378.7,264.7 379.0,264.0 379.3,264.7 379.6,264.7 379.9,264.4 380.3,264.5 380.6,264.4 381.0,264.3 381.3,263.7 381.7,264.5 382.0,265.1 382.3,265.1 382.7,264.4 383.0,264.2 383.4,264.4 383.7,264.9 384.0,264.7 384.4,264.2 384.7,264.7 385.0,264.4 385.3,264.7 385.6,264.3 386.0,263.9 386.3,264.5 386.6,264.8 386.9,264.0 387.2,264.5 387.5,264.9 387.8,264.3 388.1,264.2 388.4,265.4 388.8,264.9 389.1,265.0 389.5,264.1 389.8,265.2 390.1,263.8 390.5,264.3 390.8,264.8 391.1,265.1 391.5,264.1 391.8,264.2 392.1,264.6 392.4,263.7 392.8,264.8 393.1,264.7 393.4,264.3 393.7,264.7 394.0,264.8 394.3,264.6 394.6,264.7 394.9,265.2 395.2,264.3 395.5,264.6 395.9,264.3 396.2,265.0 396.6,264.3 396.9,264.7 397.2,264.6 397.6,264.5 397.9,265.2 398.2,264.5 398.5,265.1 398.9,264.9 399.2,265.1 399.5,264.4 399.8,264.9 400.1,264.8 400.4,264.2 400.7,264.6 401.0,264.4 401.3,264.5 401.6,265.1 402.0,264.2 402.3,263.8 402.6,263.7 403.0,264.3 403.3,264.2 403.6,264.5 404.0,264.7 404.3,265.3 404.6,264.6 404.9,264.7 405.2,264.2 405.5,264.8 405.8,265.1 406.2,265.1 406.5,263.7 406.8,264.9 407.1,265.2 407.4,264.9 407.7,263.9 408.0,264.4 408.4,264.8 408.7,264.7 409.0,264.1 409.3,264.1 409.6,264.9 410.0,263.9 410.3,265.1 410.6,264.5 410.9,264.6 411.2,263.9 411.5,264.2 411.8,264.8 412.1,263.9 412.4,265.4 412.8,263.9 413.1,264.0 413.4,264.5 413.7,264.7 414.0,264.8 414.4,264.3 414.7,264.4 415.0,264.4 415.3,264.3 415.6,263.4 415.9,264.9 416.2,264.6 416.5,264.6 416.8,264.2 417.2,264.6 417.5,264.5 417.8,264.5 418.1,265.0 418.4,263.8 418.8,264.6 419.1,264.0 419.4,264.4 419.7,265.1 420.0,264.0 420.3,264.5 420.6,264.2 420.9,264.9 421.2,264.1 421.6,263.8 421.9,264.7 422.2,264.3 422.5,264.4 422.8,265.0 423.1,264.1 423.4,264.3 423.7,264.6 424.0,264.7 424.3,264.3 424.7,264.9 425.0,265.5 425.3,264.3 425.6,265.3 425.9,263.6 426.2,265.1 426.5,264.4 426.9,264.6 427.2,264.4 427.5,264.2 427.8,263.9 428.1,264.3 428.4,265.1 428.7,265.0 429.0,264.3 429.3,264.3 429.7,264.2 430.0,264.0"/>
<polyline fill="none" stroke="none" marker-start="url(#m4)" marker-mid="url(#m4)" marker-end="url(#m4)" points="70.5,34.8 102.7,51.4 121.5,64.4 134.9,75.1 145.3,84.3 153.8,92.7 161.0,100.5 167.2,107.8 172.6,114.8 177.6,121.5 182.0,127.8 186.0,133.9 189.8,139.7 193.2,145.3 196.4,150.7 199.4,155.8 202.2,160.7 204.9,165.4 207.4,169.9 209.8,174.2 212.1,178.4 214.2,182.3 216.3,186.1 218.3,189.7 220.2,193.2 222.0,196.5 223.7,199.7 225.4,202.7 227.1,205.7 228.6,208.5 230.2,211.1 231.7,213.7 233.1,216.1 234.5,218.5 235.8,220.7 237.1,222.8 238.4,224.9 239.6,226.8 240.9,228.7 242.0,230.5 243.2,232.2"/>
<polyline fill="none" stroke="none" marker-start="url(#d4)" marker-mid="url(#d4)" marker-end="url(#d4)" points="244.3,233.8 245.4,235.4 246.5,236.7 247.5,237.9 248.5,239.6 249.5,240.8 250.5,242.1 251.5,243.4 252.4,244.2 253.3,245.4 254.2,246.5 255.1,247.4 256.0,248.5 256.8,249.3 257.7,250.1 258.5,250.9 259.3,251.9 260.1,252.4 260.9,253.3 261.7,254.0 262.4,254.3 263.2,255.0 263.9,255.7 264.6,256.3 265.3,256.9 266.0,257.4 266.7,258.0 267.4,258.1 268.1,258.6 268.7,259.3 269.4,259.3 270.0,260.2 270.6,259.5 271.3,260.7 271.9,260.7 272.5,260.2 273.1,261.8 273.7,261.7 274.3,261.8 274.8,261.6 275.4,262.1 276.0,263.2 276.5,262.3 277.1,261.3 277.6,262.7 278.2,262.7 278.7,263.3 279.2,263.4 279.7,263.3 280.3,263.4 280.8,264.4 281.3,263.4 281.8,265.1 282.3,264.0 282.8,263.9 283.2,264.8 283.7,264.8 284.2,264.0 284.6,264.8 285.1,263.7 285.6,264.1 286.0,265.0 286.5,264.4 286.9,263.9 287.4,264.7 287.8,264.9 288.2,264.5 288.7,263.7 289.1,264.3 289.5,264.7 289.9,264.8 290.3,265.3 290.7,264.4 291.2,264.3 291.6,264.5 292.0,265.0 292.3,264.1 292.7,265.1 293.1,263.3 293.5,264.9 293.9,264.2 294.3,264.7 294.7,264.8 295.0,264.0 295.4,264.5 295.8,264.6 296.1,264.8 296.5,264.1 296.9,264.1 297.2,263.6 297.6,265.6 297.9,264.4 298.3,264.4 298.6,263.8 299.0,264.9 299.3,264.3 299.6,265.1 300.0,264.9 300.3,264.5 300.6,264.8 301.0,264.0 301.3,264.4 301.6,264.2 301.9,263.9 302.3,264.5 302.6,264.4 302.9,265.1 303.2,263.0 303.5,264.2 303.8,264.1 304.1,264.3 304.4,264.7 304.7,264.7 305.0,264.5 305.6,264.3 306.2,264.7 306.8,264.7 307.4,263.7 307.9,264.4 308.5,263.9 309.1,264.0 309.6,264.6 310.1,264.5 310.7,264.6 311.2,264.1 311.7,264.4 312.2,264.1 312.8,264.7 313.3,264.8 313.8,265.3 314.3,265.1 314.7,264.1 315.2,264.3 315.7,264.1 316.2,264.6 316.7,265.4 317.1,264.8 317.6,263.5 318.0,263.9 318.5,263.9 318.9,264.7 319.4,264.5 319.8,264.6 320.3,265.3 320.7,264.1 321.1,264.1 321.5,265.4 322.0,264.7 322.4,264.1 322.8,263.6 323.2,263.8 323.6,263.4 324.0,264.5 324.4,264.5 324.8,264.9 325.2,264.4 325.6,264.2 325.9,264.2 326.3,265.4 326.7,263.7 327.1,264.6 327.5,264.5 327.8,264.8 328.2,264.3 328.6,264.7 328.9,264.9 329.3,264.4 329.6,264.3 330.0,264.4 330.3,264.1 330.7,264.4 331.0,264.4 331.4,264.6 331.7,265.1 332.0,265.1 332.4,264.3 332.7,264.8 333.0,264.6 333.4,264.8 333.7,264.5 334.0,264.6 334.3,264.3 334.7,264.1 335.0,264.9 335.3,265.1 335.6,264.8 335.9,264.7 336.2,264.6 336.5,264.3 336.8,263.7 337.1,264.8 337.4,264.6 337.9,264.3 338.3,264.1 338.8,265.1 339.2,263.7 339.6,265.3 340.0,264.8 340.5,265.6 340.9,264.2 341.3,264.5 341.7,264.3 342.1,264.6 342.5,264.4 342.9,264.2 343.3,265.0 343.7,264.1 344.1,264.3 344.5,264.7 344.9,264.3 345.3,264.3 345.6,264.7 346.0,264.3 346.4,263.9 346.7,264.5 347.1,264.4 347.5,265.3 347.8,264.0 348.2,264.9 348.5,264.1 348.9,264.3 349.2,264.4 349.6,264.6 349.9,264.9 350.3,265.3 350.6,264.2 351.0,265.1 351.3,264.9 351.6,264.9 352.0,264.2 352.3,264.9 352.6,264.5 352.9,264.7 353.2,264.4 353.6,264.8 353.9,265.0 354.2,265.0 354.5,264.4 354.8,264.9 355.1,265.2 355.4,264.1 355.7,265.2 356.0,263.9 356.4,264.7 356.8,264.8 357.2,265.2 357.6,264.6 358.0,264.3 358.4,264.1 358.8,263.9 359.1,264.8 359.5,264.4 359.9,264.2 360.2,264.7 360.6,264.2 361.0,264.3 361.3,264.3 361.7,265.2 362.0,265.2 362.4,264.4 362.7,263.8 363.1,264.6 363.4,264.5 363.8,264.7 364.1,264.8 364.4,264.4 364.8,264.9 365.1,264.9 365.4,264.6 365.8,264.3 366.1,264.3 366.4,264.8 366.7,264.0 367.1,264.4 367.4,264.2 367.7,263.9 368.0,264.8 368.3,264.5 368.6,264.5 368.9,264.9 369.2,263.8 369.5,264.5 369.9,264.6 370.3,264.9 370.6,264.0 371.0,264.8 371.4,264.6 371.7,265.1 372.1,265.0 372.4,264.7 372.8,265.5 373.1,264.5 373.5,264.3 373.8,264.3 374.2,264.1 374.5,264.5 374.8,263.7 375.2,264.5 375.5,264.7 375.8,264.9 376.1,264.3 376.5,265.1 376.8,264.2 377.1,264.4 377.4,263.7 377.7,264.2 378.1,264.1 378.4,265.2 378.7,264.7 379.0,264.0 379.3,264.7 379.6,264.7 379.9,264.4 380.3,264.5 380.6,264.4 381.0,264.3 381.3,263.7 381.7,264.5 382.0,265.1 382.3,265.1 382.7,264.4 383.0,264.2 383.4,264.4 383.7,264.9 384.0,264.7 384.4,264.2 384.7,264.7 385.0,264.4 385.3,264.7 385.6,264.3 386.0,263.9 386.3,264.5 386.6,264.8 386.9,264.0 387.2,264.5 387.5,264.9 387.8,264.3 388.1,264.2 388.4,265.4 388.8,264.9 389.1,265.0 389.5,264.1 389.8,265.2 390.1,263.8 390.5,264.3 390.8,264.8 391.1,265.1 391.5,264.1 391.8,264.2 392.1,264.6 392.4,263.7 392.8,264.8 393.1,264.7 393.4,264.3 393.7,264.7 394.0,264.8 394.3,264.6 394.6,264.7 394.9,265.2 395.2,264.3 395.5,264.6 395.9,264.3 396.2,265.0 396.6,264.3 396.9,264.7 397.2,264.6 397.6,264.5 397.9,265.2 398.2,264.5 398.5,265.1 398.9,264.9 399.2,265.1 399.5,264.4 399.8,264.9 400.1,264.8 400.4,264.2 400.7,264.6 401.0,264.4 401.3,264.5 401.6,265.1 402.0,264.2 402.3,263.8 402.6,263.7 403.0,264.3 403.3,264.2 403.6,264.5 404.0,264.7 404.3,265.3 404.6,264.6 404.9,264.7 405.2,264.2 405.5,264.8 405.8,265.1 406.2,265.1 406.5,263.7 406.8,264.9 407.1,265.2 407.4,264.9 407.7,263.9 408.0,264.4 408.4,264.8 408.7,264.7 409.0,264.1 409.3,264.1 409.6,264.9 410.0,263.9 410.3,265.1 410.6,264.5 410.9,264.6 411.2,263.9 411.5,264.2 411.8,264.8 412.1,263.9 412.4,265.4 412.8,263.9 413.1,264.0 413.4,264.5 413.7,264.7 414.0,264.8 414.4,264.3 414.7,264.4 415.0,264.4 415.3,264.3 415.6,263.4 415.9,264.9 416.2,264.6 416.5,264.6 416.8,264.2 417.2,264.6 417.5,264.5 417.8,264.5 418.1,265.0 418.4,263.8 418.8,264.6 419.1,264.0 419.4,264.4 419.7,265.1 420.0,264.0 420.3,264.5 420.6,264.2 420.9,264.9 421.2,264.1 421.6,263.8 421.9,264.7 422.2,264.3 422.5,264.4 422.8,265.0 423.1,264.1 423.4,264.3 423.7,264.6 424.0,264.7 424.3,264.3 424.7,264.9 425.0,265.5 425.3,264.3 425.6,265.3 425.9,263.6 426.2,265.1 426.5,264.4 426.9,264.6 427.2,264.4 427.5,264.2 427.8,263.9 428.1,264.3 428.4,265.1 428.7,265.0 429.0,264.3 429.3,264.3 429.7,264.2 430.0,264.0"/>
<polyline clip-path="url(#cp)" fill="none" stroke="#bc8f8f" stroke-width="0.9" points="51.5,27.3 70.5,35.7 102.7,56.7 121.5,74.4 134.9,89.4 145.3,102.4 153.8,114.0 161.0,124.5 167.2,134.2 172.6,143.3 177.6,151.7 182.0,159.7 186.0,167.2 189.8,174.4 193.2,181.1 196.4,187.4 199.4,193.4 202.2,199.0 204.9,204.3 207.4,209.2 209.8,213.8 212.1,218.1 214.2,222.0 216.3,225.7 218.3,229.1 220.2,232.2 222.0,235.1 223.7,237.8 225.4,240.2 227.1,242.5 228.6,244.5 230.2,246.4 231.7,248.1 233.1,249.7 234.5,251.1 235.8,252.4 237.1,253.6 238.4,254.6 239.6,255.6 240.9,256.4 242.0,257.6 243.2,258.0 244.3,259.1 245.4,259.6 246.5,259.6 247.5,260.4 248.5,261.2 249.5,260.9 250.5,261.5 251.5,261.5 252.4,262.0 253.3,262.1 254.2,262.5 255.1,263.2 256.0,263.5 256.8,263.1 257.7,263.3 258.5,263.7 259.3,263.4 260.1,263.1 260.9,264.2 261.7,263.4 262.4,264.2 263.2,263.5 263.9,264.8 264.6,263.6 265.3,264.4 266.0,264.8 266.7,263.8 267.4,264.8 268.1,263.9 268.7,263.5 269.4,264.6 270.0,264.6 270.6,264.2 271.3,263.3 271.9,264.3 272.5,264.2 273.1,264.2 273.7,264.3 274.3,263.6 274.8,264.2 275.4,265.2 276.0,265.1 276.5,264.3 277.1,264.1 277.6,264.6 278.2,264.9 278.7,264.8 279.2,264.0 279.7,264.5 280.3,264.5 280.8,265.1 281.3,265.0 281.8,264.7 282.3,265.0 282.8,264.3 283.2,265.2 283.7,264.3 284.2,264.7 284.6,264.9 285.1,264.1 285.6,264.2 286.0,263.7 286.5,264.6 286.9,264.5 287.4,264.4 287.8,264.7 288.2,263.6 288.7,264.5 289.1,264.5 289.5,264.4 289.9,264.8 290.3,265.3 290.7,264.3 291.2,264.1 291.6,264.2 292.0,264.5 292.3,264.8 292.7,264.1 293.1,264.9 293.5,264.1 293.9,264.9 294.3,264.7 294.7,264.7 295.0,265.4 295.4,264.4 295.8,264.4 296.1,264.7 296.5,264.9 296.9,263.9 297.2,264.6 297.6,264.2 297.9,264.8 298.3,265.1 298.6,264.5 299.0,264.5 299.3,264.6 299.6,263.2 300.0,264.8 300.3,264.7 300.6,264.6 301.0,264.3 301.3,264.2 301.6,264.4 301.9,265.0 302.3,264.5 302.6,265.1 302.9,263.4 303.2,264.3 303.5,264.6 303.8,264.5 304.1,263.8 304.4,264.2 304.7,265.0 305.0,263.9 305.6,264.1 306.2,264.0 306.8,264.3 307.4,264.8 307.9,264.8 308.5,263.6 309.1,265.1 309.6,264.2 310.1,264.2 310.7,265.2 311.2,264.5 311.7,264.0 312.2,264.2 312.8,264.2 313.3,264.1 313.8,264.4 314.3,264.9 314.7,264.7 315.2,263.9 315.7,265.7 316.2,264.1 316.7,264.6 317.1,264.5 317.6,264.8 318.0,264.4 318.5,264.7 318.9,265.4 319.4,264.5 319.8,264.0 320.3,264.6 320.7,264.2 321.1,264.3 321.5,264.6 322.0,264.6 322.4,264.4 322.8,264.9 323.2,264.4 323.6,263.9 324.0,264.9 324.4,264.3 324.8,265.0 325.2,264.2 325.6,264.7 325.9,264.6 326.3,263.3 326.7,263.9 327.1,264.0 327.5,265.1 327.8,263.7 328.2,264.9 328.6,265.0 328.9,264.7 329.3,264.8 329.6,264.3 330.0,264.5 330.3,264.6 330.7,264.7 331.0,264.8 331.4,264.4 331.7,264.2 332.0,264.3 332.4,264.7 332.7,263.8 333.0,264.0 333.4,264.3 333.7,264.3 334.0,264.4 334.3,263.3 334.7,264.4 335.0,264.4 335.3,264.8 335.6,263.6 335.9,264.4 336.2,264.7 336.5,264.7 336.8,265.0 337.1,265.0 337.4,264.0 337.9,264.8 338.3,264.4 338.8,264.2 339.2,265.2 339.6,264.2 340.0,264.1 340.5,264.3 340.9,264.1 341.3,264.9 341.7,264.7 342.1,265.1 342.5,264.7 342.9,264.2 343.3,265.0 343.7,264.2 344.1,264.3 344.5,264.4 344.9,264.5 345.3,265.0 345.6,264.2 346.0,264.7 346.4,264.5 346.7,264.0 347.1,264.0 347.5,264.4 347.8,264.7 348.2,264.6 348.5,264.7 348.9,264.5 349.2,264.3 349.6,264.7 349.9,264.1 350.3,263.9 350.6,264.4 351.0,263.9 351.3,264.3 351.6,264.2 352.0,264.3 352.3,264.5 352.6,264.2 352.9,264.3 353.2,263.8 353.6,264.6 353.9,264.1 354.2,264.7 354.5,263.3 354.8,264.2 355.1,264.6 355.4,263.4 355.7,264.3 356.0,264.5 356.4,264.5 356.8,263.9 357.2,264.6 357.6,264.6 358.0,264.1 358.4,264.8 358.8,264.5 359.1,264.5 359.5,264.3 359.9,264.7 360.2,264.5 360.6,265.0 361.0,264.7 361.3,264.2 361.7,264.4 362.0,264.9 362.4,264.3 362.7,264.7 363.1,264.7 363.4,264.4 363.8,263.5 364.1,264.6 364.4,264.6 364.8,264.6 365.1,264.2 365.4,265.0 365.8,264.4 366.1,264.2 366.4,264.2 366.7,264.7 367.1,264.0 367.4,264.1 367.7,265.4 368.0,265.1 368.3,265.0 368.6,265.1 368.9,264.8 369.2,263.8 369.5,265.0 369.9,265.0 370.3,264.7 370.6,263.6 371.0,265.0 371.4,265.1 371.7,264.3 372.1,264.6 372.4,264.8 372.8,264.5 373.1,265.0 373.5,264.5 373.8,264.8 374.2,264.5 374.5,263.9 374.8,264.1 375.2,265.9 375.5,264.6 375.8,265.1 376.1,265.0 376.5,265.2 376.8,264.7 377.1,264.2 377.4,264.5 377.7,263.7 378.1,264.4 378.4,264.9 378.7,263.6 379.0,264.6 379.3,264.9 379.6,265.1 379.9,264.1 380.3,264.2 380.6,263.7 381.0,264.1 381.3,264.7 381.7,265.4 382.0,264.0 382.3,265.1 382.7,264.7 383.0,264.3 383.4,265.5 383.7,263.4 384.0,264.5 384.4,264.6 384.7,265.4 385.0,265.3 385.3,265.5 385.6,264.6 386.0,264.9 386.3,265.1 386.6,264.7 386.9,264.7 387.2,264.4 387.5,264.3 387.8,264.0 388.1,265.4 388.4,264.3 388.8,263.6 389.1,264.6 389.5,264.5 389.8,264.6 390.1,265.3 390.5,264.5 390.8,264.4 391.1,264.2 391.5,264.5 391.8,264.3 392.1,264.6 392.4,265.9 392.8,264.7 393.1,264.1 393.4,265.3 393.7,264.9 394.0,264.9 394.3,264.8 394.6,264.9 394.9,264.8 395.2,265.1 395.5,264.9 395.9,265.1 396.2,264.3 396.6,264.5 396.9,264.2 397.2,264.9 397.6,264.9 397.9,264.3 398.2,264.8 398.5,265.6 398.9,265.0 399.2,264.0 399.5,264.5 399.8,264.8 400.1,264.5 400.4,264.7 400.7,265.0 401.0,264.6 401.3,264.0 401.6,264.8 402.0,264.5 402.3,264.5 402.6,264.3 403.0,263.9 403.3,264.0 403.6,264.3 404.0,264.0 404.3,263.3 404.6,265.0 404.9,264.0 405.2,264.2 405.5,264.7 405.8,263.4 406.2,265.1 406.5,264.2 406.8,264.8 407.1,264.3 407.4,264.6 407.7,264.5 408.0,264.5 408.4,263.7 408.7,263.9 409.0,264.5 409.3,265.1 409.6,264.3 410.0,264.7 410.3,264.6 410.6,264.7 410.9,264.9 411.2,263.8 411.5,264.6 411.8,264.4 412.1,264.4 412.4,264.1 412.8,264.2 413.1,264.0 413.4,264.0 413.7,265.6 414.0,265.2 414.4,264.5 414.7,264.8 415.0,264.1 415.3,263.3 415.6,263.7 415.9,264.6 416.2,265.1 416.5,264.5 416.8,264.1 417.2,264.4 417.5,264.1 417.8,263.9 418.1,264.4 418.4,264.3 418.8,264.1 419.1,264.1 419.4,264.1 419.7,264.6 420.0,265.1 420.3,264.4 420.6,265.5 420.9,263.8 421.2,264.6 421.6,264.0 421.9,264.4 422.2,264.5 422.5,264.7 422.8,265.0 423.1,264.3 423.4,264.0 423.7,264.4 424.0,264.6 424.3,264.2 424.7,264.9 425.0,265.2 425.3,263.9 425.6,264.7 425.9,264.9 426.2,263.7 426.5,264.6 426.9,264.4 427.2,263.9 427.5,265.1 427.8,264.6 428.1,264.3 428.4,264.7 428.7,264.8 429.0,264.8 429.3,264.8 429.7,264.7 430.0,264.0"/>
<polyline fill="none" stroke="none" marker-start="url(#m5)" marker-mid="url(#m5)" marker-end="url(#m5)" points="70.5,35.7 102.7,56.7 121.5,74.4 134.9,89.4 145.3,102.4 153.8,114.0 161.0,124.5 167.2,134.2 172.6,143.3 177.6,151.7 182.0,159.7 186.0,167.2 189.8,174.4 193.2,181.1 196.4,187.4 199.4,193.4 202.2,199.0 204.9,204.3 207.4,209.2 209.8,213.8 212.1,218.1 214.2,222.0 216.3,225.7 218.3,229.1 220.2,232.2 222.0,235.1 223.7,237.8 225.4,240.2 227.1,242.5 228.6,244.5 230.2,246.4 231.7,248.1 233.1,249.7 234.5,251.1 235.8,252.4 237.1,253.6 238.4,254.6 239.6,255.6 240.9,256.4 242.0,257.6 243.2,258.0"/>
<polyline fill="none" stroke="none" marker-start="url(#d5)" marker-mid="url(#d5)" marker-end="url(#d5)" points="244.3,259.1 245.4,259.6 246.5,259.6 247.5,260.4 248.5,261.2 249.5,260.9 250.5,261.5 251.5,261.5 252.4,262.0 253.3,262.1 254.2,262.5 255.1,263.2 256.0,263.5 256.8,263.1 257.7,263.3 258.5,263.7 259.3,263.4 260.1,263.1 260.9,264.2 261.7,263.4 262.4,264.2 263.2,263.5 263.9,264.8 264.6,263.6 265.3,264.4 266.0,264.8 266.7,263.8 267.4,264.8 268.1,263.9 268.7,263.5 269.4,264.6 270.0,264.6 270.6,264.2 271.3,263.3 271.9,264.3 272.5,264.2 273.1,264.2 273.7,264.3 274.3,263.6 274.8,264.2 275.4,265.2 276.0,265.1 276.5,264.3 277.1,264.1 277.6,264.6 278.2,264.9 278.7,264.8 279.2,264.0 279.7,264.5 280.3,264.5 280.8,265.1 281.3,265.0 281.8,264.7 282.3,265.0 282.8,264.3 283.2,265.2 283.7,264.3 284.2,264.7 284.6,264.9 285.1,264.1 285.6,264.2 286.0,263.7 286.5,264.6 286.9,264.5 287.4,264.4 287.8,264.7 288.2,263.6 288.7,264.5 289.1,264.5 289.5,264.4 289.9,264.8 290.3,265.3 290.7,264.3 291.2,264.1 291.6,264.2 292.0,264.5 292.3,264.8 292.7,264.1 293.1,264.9 293.5,264.1 293.9,264.9 294.3,264.7 294.7,264.7 295.0,265.4 295.4,264.4 295.8,264.4 296.1,264.7 296.5,264.9 296.9,263.9 297.2,264.6 297.6,264.2 297.9,264.8 298.3,265.1 298.6,264.5 299.0,264.5 299.3,264.6 299.6,263.2 300.0,264.8 300.3,264.7 300.6,264.6 301.0,264.3 301.3,264.2 301.6,264.4 301.9,265.0 302.3,264.5 302.6,265.1 302.9,263.4 303.2,264.3 303.5,264.6 303.8,264.5 304.1,263.8 304.4,264.2 304.7,265.0 305.0,263.9 305.6,264.1 306.2,264.0 306.8,264.3 307.4,264.8 307.9,264.8 308.5,263.6 309.1,265.1 309.6,264.2 310.1,264.2 310.7,265.2 311.2,264.5 311.7,264.0 312.2,264.2 312.8,264.2 313.3,264.1 313.8,264.4 314.3,264.9 314.7,264.7 315.2,263.9 315.7,265.7 316.2,264.1 316.7,264.6 317.1,264.5 317.6,264.8 318.0,264.4 318.5,264.7 318.9,265.4 319.4,264.5 319.8,264.0 320.3,264.6 320.7,264.2 321.1,264.3 321.5,264.6 322.0,264.6 322.4,264.4 322.8,264.9 323.2,264.4 323.6,263.9 324.0,264.9 324.4,264.3 324.8,265.0 325.2,264.2 325.6,264.7 325.9,264.6 326.3,263.3 326.7,263.9 327.1,264.0 327.5,265.1 327.8,263.7 328.2,264.9 328.6,265.0 328.9,264.7 329.3,264.8 329.6,264.3 330.0,264.5 330.3,264.6 330.7,264.7 331.0,264.8 331.4,264.4 331.7,264.2 332.0,264.3 332.4,264.7 332.7,263.8 333.0,264.0 333.4,264.3 333.7,264.3 334.0,264.4 334.3,263.3 334.7,264.4 335.0,264.4 335.3,264.8 335.6,263.6 335.9,264.4 336.2,264.7 336.5,264.7 336.8,265.0 337.1,265.0 337.4,264.0 337.9,264.8 338.3,264.4 338.8,264.2 339.2,265.2 339.6,264.2 340.0,264.1 340.5,264.3 340.9,264.1 341.3,264.9 341.7,264.7 342.1,265.1 342.5,264.7 342.9,264.2 343.3,265.0 343.7,264.2 344.1,264.3 344.5,264.4 344.9,264.5 345.3,265.0 345.6,264.2 346.0,264.7 346.4,264.5 346.7,264.0 347.1,264.0 347.5,264.4 347.8,264.7 348.2,264.6 348.5,264.7 348.9,264.5 349.2,264.3 349.6,264.7 349.9,264.1 350.3,263.9 350.6,264.4 351.0,263.9 351.3,264.3 351.6,264.2 352.0,264.3 352.3,264.5 352.6,264.2 352.9,264.3 353.2,263.8 353.6,264.6 353.9,264.1 354.2,264.7 354.5,263.3 354.8,264.2 355.1,264.6 355.4,263.4 355.7,264.3 356.0,264.5 356.4,264.5 356.8,263.9 357.2,264.6 357.6,264.6 358.0,264.1 358.4,264.8 358.8,264.5 359.1,264.5 359.5,264.3 359.9,264.7 360.2,264.5 360.6,265.0 361.0,264.7 361.3,264.2 361.7,264.4 362.0,264.9 362.4,264.3 362.7,264.7 363.1,264.7 363.4,264.4 363.8,263.5 364.1,264.6 364.4,264.6 364.8,264.6 365.1,264.2 365.4,265.0 365.8,264.4 366.1,264.2 366.4,264.2 366.7,264.7 367.1,264.0 367.4,264.1 367.7,265.4 368.0,265.1 368.3,265.0 368.6,265.1 368.9,264.8 369.2,263.8 369.5,265.0 369.9,265.0 370.3,264.7 370.6,263.6 371.0,265.0 371.4,265.1 371.7,264.3 372.1,264.6 372.4,264.8 372.8,264.5 373.1,265.0 373.5,264.5 373.8,264.8 374.2,264.5 374.5,263.9 374.8,264.1 375.2,265.9 375.5,264.6 375.8,265.1 376.1,265.0 376.5,265.2 376.8,264.7 377.1,264.2 377.4,264.5 377.7,263.7 378.1,264.4 378.4,264.9 378.7,263.6 379.0,264.6 379.3,264.9 379.6,265.1 379.9,264.1 380.3,264.2 380.6,263.7 381.0,264.1 381.3,264.7 381.7,265.4 382.0,264.0 382.3,265.1 382.7,264.7 383.0,264.3 383.4,265.5 383.7,263.4 384.0,264.5 384.4,264.6 384.7,265.4 385.0,265.3 385.3,265.5 385.6,264.6 386.0,264.9 386.3,265.1 386.6,264.7 386.9,264.7 387.2,264.4 387.5,264.3 387.8,264.0 388.1,265.4 388.4,264.3 388.8,263.6 389.1,264.6 389.5,264.5 389.8,264.6 390.1,265.3 390.5,264.5 390.8,264.4 391.1,264.2 391.5,264.5 391.8,264.3 392.1,264.6 392.4,265.9 392.8,264.7 393.1,264.1 393.4,265.3 393.7,264.9 394.0,264.9 394.3,264.8 394.6,264.9 394.9,264.8 395.2,265.1 395.5,264.9 395.9,265.1 396.2,264.3 396.6,264.5 396.9,264.2 397.2,264.9 397.6,264.9 397.9,264.3 398.2,264.8 398.5,265.6 398.9,265.0 399.2,264.0 399.5,264.5 399.8,264.8 400.1,264.5 400.4,264.7 400.7,265.0 401.0,264.6 401.3,264.0 401.6,264.8 402.0,264.5 402.3,264.5 402.6,264.3 403.0,263.9 403.3,264.0 403.6,264.3 404.0,264.0 404.3,263.3 404.6,265.0 404.9,264.0 405.2,264.2 405.5,264.7 405.8,263.4 406.2,265.1 406.5,264.2 406.8,264.8 407.1,264.3 407.4,264.6 407.7,264.5 408.0,264.5 408.4,263.7 408.7,263.9 409.0,264.5 409.3,265.1 409.6,264.3 410.0,264.7 410.3,264.6 410.6,264.7 410.9,264.9 411.2,263.8 411.5,264.6 411.8,264.4 412.1,264.4 412.4,264.1 412.8,264.2 413.1,264.0 413.4,264.0 413.7,265.6 414.0,265.2 414.4,264.5 414.7,264.8 415.0,264.1 415.3,263.3 415.6,263.7 415.9,264.6 416.2,265.1 416.5,264.5 416.8,264.1 417.2,264.4 417.5,264.1 417.8,263.9 418.1,264.4 418.4,264.3 418.8,264.1 419.1,264.1 419.4,264.1 419.7,264.6 420.0,265.1 420.3,264.4 420.6,265.5 420.9,263.8 421.2,264.6 421.6,264.0 421.9,264.4 422.2,264.5 422.5,264.7 422.8,265.0 423.1,264.3 423.4,264.0 423.7,264.4 424.0,264.6 424.3,264.2 424.7,264.9 425.0,265.2 425.3,263.9 425.6,264.7 425.9,264.9 426.2,263.7 426.5,264.6 426.9,264.4 427.2,263.9 427.5,265.1 427.8,264.6 428.1,264.3 428.4,264.7 428.7,264.8 429.0,264.8 429.3,264.8 429.7,264.7 430.0,264.0"/>
<polyline clip-path="url(#cp)" fill="none" stroke="#dcdcdc" stroke-width="0.9" points="51.5,27.8 70.5,36.0 102.7,58.8 121.5,80.4 134.9,100.5 145.3,115.0 153.8,130.5 161.0,143.3 167.2,155.5 172.6,166.2 177.6,175.5 182.0,185.6 186.0,193.8 189.8,202.0 193.2,208.3 196.4,214.6 199.4,220.6 202.2,226.1 204.9,231.2 207.4,235.7 209.8,239.6 212.1,243.2 214.2,246.3 216.3,248.9 218.3,251.2 220.2,253.0 222.0,254.5 223.7,255.8 225.4,256.9 227.1,257.6 228.6,258.3 230.2,259.7 231.7,260.7 233.1,261.1 234.5,260.9 235.8,261.9 237.1,262.5 238.4,262.4 239.6,263.3 240.9,263.3 242.0,263.3 243.2,263.3 244.3,264.4 245.4,264.2 246.5,263.8 247.5,263.8 248.5,264.7 249.5,264.6 250.5,264.2 251.5,265.1 252.4,264.3 253.3,263.9 254.2,264.9 255.1,264.3 256.0,264.6 256.8,264.4 257.7,264.0 258.5,263.9 259.3,264.3 260.1,265.0 260.9,264.0 261.7,265.0 262.4,264.5 263.2,263.9 263.9,264.5 264.6,264.7 265.3,264.0 266.0,263.5 266.7,264.6 267.4,263.9 268.1,264.6 268.7,263.6 269.4,264.4 270.0,264.1 270.6,263.8 271.3,264.3 271.9,264.5 272.5,264.2 273.1,263.9 273.7,264.5 274.3,263.7 274.8,264.7 275.4,264.6 276.0,265.2 276.5,264.8 277.1,264.6 277.6,264.5 278.2,264.4 278.7,263.9 279.2,265.1 279.7,264.7 280.3,264.3 280.8,263.9 281.3,265.1 281.8,264.7 282.3,263.9 282.8,264.7 283.2,265.3 283.7,264.4 284.2,264.6 284.6,264.3 285.1,264.2 285.6,264.9 286.0,265.8 286.5,264.5 286.9,264.4 287.4,264.8 287.8,264.3 288.2,264.8 288.7,264.8 289.1,264.0 289.5,264.0 289.9,264.4 290.3,264.8 290.7,264.6 291.2,265.0 291.6,263.8 292.0,264.7 292.3,264.2 292.7,264.5 293.1,264.6 293.5,264.0 293.9,264.4 294.3,263.9 294.7,264.6 295.0,264.1 295.4,264.2 295.8,264.5 296.1,264.2 296.5,265.0 296.9,264.2 297.2,264.8 297.6,264.6 297.9,264.0 298.3,264.4 298.6,264.1 299.0,264.3 299.3,264.3 299.6,265.3 300.0,264.3 300.3,265.1 300.6,264.7 301.0,263.9 301.3,263.4 301.6,264.8 301.9,263.6 302.3,264.8 302.6,264.9 302.9,264.6 303.2,264.4 303.5,264.4 303.8,264.6 304.1,264.3 304.4,264.2 304.7,264.3 305.0,265.0 305.6,264.2 306.2,264.6 306.8,264.0 307.4,264.2 307.9,263.9 308.5,264.4 309.1,264.8 309.6,264.6 310.1,264.3 310.7,264.7 311.2,264.3 311.7,264.6 312.2,264.6 312.8,264.7 313.3,263.4 313.8,263.9 314.3,264.8 314.7,264.4 315.2,265.4 315.7,264.4 316.2,264.2 316.7,265.1 317.1,264.7 317.6,265.3 318.0,264.7 318.5,264.4 318.9,264.8 319.4,264.1 319.8,264.3 320.3,264.2 320.7,264.4 321.1,264.8 321.5,264.3 322.0,264.6 322.4,264.3 322.8,264.9 323.2,263.3 323.6,264.4 324.0,264.5 324.4,264.0 324.8,264.9 325.2,264.6 325.6,265.0 325.9,264.9 326.3,264.8 326.7,264.4 327.1,264.0 327.5,264.4 327.8,264.3 328.2,264.6 328.6,264.3 328.9,265.8 329.3,263.8 329.6,265.0 330.0,264.3 330.3,264.4 330.7,264.9 331.0,264.5 331.4,264.0 331.7,264.7 332.0,264.4 332.4,263.6 332.7,264.6 333.0,264.0 333.4,264.2 333.7,264.7 334.0,264.6 334.3,264.4 334.7,265.4 335.0,264.7 335.3,264.2 335.6,264.6 335.9,264.4 336.2,263.5 336.5,263.8 336.8,263.9 337.1,265.4 337.4,264.4 337.9,264.4 338.3,264.2 338.8,264.9 339.2,264.5 339.6,265.2 340.0,264.8 340.5,265.2 340.9,264.4 341.3,264.6 341.7,264.3 342.1,264.4 342.5,263.7 342.9,264.2 343.3,264.1 343.7,264.2 344.1,265.0 344.5,264.6 344.9,265.0 345.3,264.9 345.6,264.9 346.0,264.9 346.4,264.2 346.7,264.8 347.1,264.3 347.5,264.3 347.8,265.0 348.2,265.4 348.5,264.1 348.9,265.2 349.2,264.8 349.6,264.1 349.9,264.6 350.3,264.6 350.6,264.7 351.0,264.3 351.3,263.9 351.6,264.5 352.0,264.9 352.3,264.8 352.6,264.8 352.9,265.0 353.2,264.1 353.6,264.5 353.9,264.6 354.2,264.9 354.5,264.6 354.8,264.7 355.1,264.5 355.4,265.4 355.7,263.5 356.0,264.5 356.4,265.6 356.8,264.6 357.2,263.7 357.6,264.5 358.0,263.9 358.4,264.2 358.8,264.6 359.1,265.2 359.5,264.7 359.9,264.8 360.2,264.9 360.6,264.6 361.0,264.1 361.3,264.4 361.7,264.6 362.0,264.4 362.4,264.2 362.7,264.3 363.1,263.8 363.4,264.0 363.8,264.5 364.1,264.3 364.4,264.5 364.8,265.1 365.1,264.6 365.4,264.5 365.8,264.0 366.1,264.0 366.4,264.7 366.7,264.1 367.1,264.7 367.4,264.0 367.7,264.6 368.0,264.5 368.3,264.9 368.6,264.3 368.9,264.3 369.2,264.6 369.5,264.5 369.9,265.2 370.3,264.4 370.6,264.3 371.0,264.4 371.4,264.7 371.7,264.6 372.1,264.8 372.4,263.9 372.8,265.6 373.1,265.3 373.5,264.5 373.8,264.0 374.2,264.6 374.5,264.7 374.8,263.5 375.2,264.5 375.5,263.9 375.8,264.7 376.1,265.1 376.5,264.9 376.8,263.8 377.1,265.1 377.4,264.9 377.7,264.3 378.1,264.7 378.4,265.2 378.7,264.4 379.0,264.5 379.3,264.3 379.6,265.0 379.9,263.6 380.3,265.1 380.6,264.1 381.0,264.9 381.3,263.8 381.7,264.1 382.0,264.2 382.3,264.9 382.7,263.8 383.0,264.8 383.4,264.2 383.7,265.0 384.0,264.4 384.4,264.7 384.7,264.4 385.0,265.3 385.3,264.3 385.6,264.5 386.0,265.4 386.3,264.5 386.6,264.8 386.9,264.2 387.2,264.6 387.5,263.5 387.8,264.5 388.1,264.2 388.4,263.8 388.8,263.9 389.1,265.0 389.5,264.7 389.8,263.8 390.1,265.3 390.5,264.2 390.8,264.3 391.1,264.6 391.5,264.0 391.8,263.8 392.1,264.2 392.4,265.0 392.8,264.9 393.1,263.8 393.4,265.0 393.7,264.5 394.0,264.7 394.3,264.5 394.6,264.7 394.9,264.1 395.2,264.1 395.5,264.2 395.9,264.3 396.2,264.8 396.6,264.0 396.9,265.2 397.2,264.2 397.6,264.2 397.9,264.8 398.2,264.7 398.5,264.4 398.9,264.0 399.2,264.1 399.5,263.8 399.8,265.0 400.1,265.0 400.4,265.3 400.7,264.7 401.0,264.6 401.3,264.8 401.6,264.9 402.0,264.4 402.3,264.7 402.6,265.4 403.0,263.8 403.3,263.9 403.6,264.1 404.0,264.8 404.3,265.0 404.6,264.4 404.9,264.8 405.2,264.5 405.5,264.6 405.8,264.3 406.2,264.5 406.5,264.5 406.8,265.0 407.1,265.5 407.4,263.7 407.7,264.7 408.0,264.5 408.4,264.9 408.7,265.0 409.0,264.8 409.3,264.8 409.6,264.1 410.0,263.8 410.3,265.2 410.6,265.0 410.9,264.1 411.2,265.1 411.5,264.8 411.8,263.4 412.1,264.9 412.4,264.1 412.8,265.0 413.1,264.2 413.4,264.2 413.7,263.8 414.0,264.4 414.4,264.9 414.7,264.2 415.0,263.7 415.3,265.4 415.6,265.3 415.9,264.8 416.2,264.3 416.5,264.0 416.8,263.8 417.2,264.7 417.5,265.1 417.8,264.0 418.1,264.5 418.4,264.4 418.8,264.4 419.1,264.7 419.4,265.4 419.7,264.2 420.0,264.9 420.3,265.0 420.6,264.4 420.9,264.4 421.2,263.9 421.6,265.0 421.9,264.3 422.2,264.2 422.5,264.5 422.8,264.1 423.1,264.0 423.4,264.4 423.7,265.1 424.0,264.4 424.3,264.7 424.7,263.9 425.0,263.7 425.3,265.3 425.6,264.3 425.9,263.8 426.2,264.5 426.5,264.8 426.9,263.8 427.2,264.1 427.5,264.6 427.8,264.1 428.1,264.8 428.4,264.9 428.7,264.7 429.0,264.3 429.3,264.5 429.7,264.2 430.0,264.4"/>
<polyline fill="none" stroke="none" marker-start="url(#m6)" marker-mid="url(#m6)" marker-end="url(#m6)" points="70.5,36.0 102.7,58.8 121.5,80.4 134.9,100.5 145.3,115.0 153.8,130.5 161.0,143.3 167.2,155.5 172.6,166.2 177.6,175.5 182.0,185.6 186.0,193.8 189.8,202.0 193.2,208.3 196.4,214.6 199.4,220.6 202.2,226.1 204.9,231.2 207.4,235.7 209.8,239.6 212.1,243.2 214.2,246.3 216.3,248.9 218.3,251.2 220.2,253.0 222.0,254.5 223.7,255.8 225.4,256.9 227.1,257.6 228.6,258.3 230.2,259.7 231.7,260.7 233.1,261.1 234.5,260.9 235.8,261.9 237.1,262.5 238.4,262.4 239.6,263.3 240.9,263.3 242.0,263.3 243.2,263.3"/>
<polyline fill="none" stroke="none" marker-start="url(#d6)" marker-mid="url(#d6)" marker-end="url(#d6)" points="244.3,264.4 245.4,264.2 246.5,263.8 247.5,263.8 248.5,264.7 249.5,264.6 250.5,264.2 251.5,265.1 252.4,264.3 253.3,263.9 254.2,264.9 255.1,264.3 256.0,264.6 256.8,264.4 257.7,264.0 258.5,263.9 259.3,264.3 260.1,265.0 260.9,264.0 261.7,265.0 262.4,264.5 263.2,263.9 263.9,264.5 264.6,264.7 265.3,264.0 266.0,263.5 266.7,264.6 267.4,263.9 268.1,264.6 268.7,263.6 269.4,264.4 270.0,264.1 270.6,263.8 271.3,264.3 271.9,264.5 272.5,264.2 273.1,263.9 273.7,264.5 274.3,263.7 274.8,264.7 275.4,264.6 276.0,265.2 276.5,264.8 277.1,264.6 277.6,264.5 278.2,264.4 278.7,263.9 279.2,265.1 279.7,264.7 280.3,264.3 280.8,263.9 281.3,265.1 281.8,264.7 282.3,263.9 282.8,264.7 283.2,265.3 283.7,264.4 284.2,264.6 284.6,264.3 285.1,264.2 285.6,264.9 286.0,265.8 286.5,264.5 286.9,264.4 287.4,264.8 287.8,264.3 288.2,264.8 288.7,264.8 289.1,264.0 289.5,264.0 289.9,264.4 290.3,264.8 290.7,264.6 291.2,265.0 291.6,263.8 292.0,264.7 292.3,264.2 292.7,264.5 293.1,264.6 293.5,264.0 293.9,264.4 294.3,263.9 294.7,264.6 295.0,264.1 295.4,264.2 295.8,264.5 296.1,264.2 296.5,265.0 296.9,264.2 297.2,264.8 297.6,264.6 297.9,264.0 298.3,264.4 298.6,264.1 299.0,264.3 299.3,264.3 299.6,265.3 300.0,264.3 300.3,265.1 300.6,264.7 301.0,263.9 301.3,263.4 301.6,264.8 301.9,263.6 302.3,264.8 302.6,264.9 302.9,264.6 303.2,264.4 303.5,264.4 303.8,264.6 304.1,264.3 304.4,264.2 304.7,264.3 305.0,265.0 305.6,264.2 306.2,264.6 306.8,264.0 307.4,264.2 307.9,263.9 308.5,264.4 309.1,264.8 309.6,264.6 310.1,264.3 310.7,264.7 311.2,264.3 311.7,264.6 312.2,264.6 312.8,264.7 313.3,263.4 313.8,263.9 314.3,264.8 314.7,264.4 315.2,265.4 315.7,264.4 316.2,264.2 316.7,265.1 317.1,264.7 317.6,265.3 318.0,264.7 318.5,264.4 318.9,264.8 319.4,264.1 319.8,264.3 320.3,264.2 320.7,264.4 321.1,264.8 321.5,264.3 322.0,264.6 322.4,264.3 322.8,264.9 323.2,263.3 323.6,264.4 324.0,264.5 324.4,264.0 324.8,264.9 325.2,264.6 325.6,265.0 325.9,264.9 326.3,264.8 326.7,264.4 327.1,264.0 327.5,264.4 327.8,264.3 328.2,264.6 328.6,264.3 328.9,265.8 329.3,263.8 329.6,265.0 330.0,264.3 330.3,264.4 330.7,264.9 331.0,264.5 331.4,264.0 331.7,264.7 332.0,264.4 332.4,263.6 332.7,264.6 333.0,264.0 333.4,264.2 333.7,264.7 334.0,264.6 334.3,264.4 334.7,265.4 335.0,264.7 335.3,264.2 335.6,264.6 335.9,264.4 336.2,263.5 336.5,263.8 336.8,263.9 337.1,265.4 337.4,264.4 337.9,264.4 338.3,264.2 338.8,264.9 339.2,264.5 339.6,265.2 340.0,264.8 340.5,265.2 340.9,264.4 341.3,264.6 341.7,264.3 342.1,264.4 342.5,263.7 342.9,264.2 343.3,264.1 343.7,264.2 344.1,265.0 344.5,264.6 344.9,265.0 345.3,264.9 345.6,264.9 346.0,264.9 346.4,264.2 346.7,264.8 347.1,264.3 347.5,264.3 347.8,265.0 348.2,265.4 348.5,264.1 348.9,265.2 349.2,264.8 349.6,264.1 349.9,264.6 350.3,264.6 350.6,264.7 351.0,264.3 351.3,263.9 351.6,264.5 352.0,264.9 352.3,264.8 352.6,264.8 352.9,265.0 353.2,264.1 353.6,264.5 353.9,264.6 354.2,264.9 354.5,264.6 354.8,264.7 355.1,264.5 355.4,265.4 355.7,263.5 356.0,264.5 356.4,265.6 356.8,264.6 357.2,263.7 357.6,264.5 358.0,263.9 358.4,264.2 358.8,264.6 359.1,265.2 359.5,264.7 359.9,264.8 360.2,264.9 360.6,264.6 361.0,264.1 361.3,264.4 361.7,264.6 362.0,264.4 362.4,264.2 362.7,264.3 363.1,263.8 363.4,264.0 363.8,264.5 364.1,264.3 364.4,264.5 364.8,265.1 365.1,264.6 365.4,264.5 365.8,264.0 366.1,264.0 366.4,264.7 366.7,264.1 367.1,264.7 367.4,264.0 367.7,264.6 368.0,264.5 368.3,264.9 368.6,264.3 368.9,264.3 369.2,264.6 369.5,264.5 369.9,265.2 370.3,264.4 370.6,264.3 371.0,264.4 371.4,264.7 371.7,264.6 372.1,264.8 372.4,263.9 372.8,265.6 373.1,265.3 373.5,264.5 373.8,264.0 374.2,264.6 374.5,264.7 374.8,263.5 375.2,264.5 375.5,263.9 375.8,264.7 376.1,265.1 376.5,264.9 376.8,263.8 377.1,265.1 377.4,264.9 377.7,264.3 378.1,264.7 378.4,265.2 378.7,264.4 379.0,264.5 379.3,264.3 379.6,265.0 379.9,263.6 380.3,265.1 380.6,264.1 381.0,264.9 381.3,263.8 381.7,264.1 382.0,264.2 382.3,264.9 382.7,263.8 383.0,264.8 383.4,264.2 383.7,265.0 384.0,264.4 384.4,264.7 384.7,264.4 385.0,265.3 385.3,264.3 385.6,264.5 386.0,265.4 386.3,264.5 386.6,264.8 386.9,264.2 387.2,264.6 387.5,263.5 387.8,264.5 388.1,264.2 388.4,263.8 388.8,263.9 389.1,265.0 389.5,264.7 389.8,263.8 390.1,265.3 390.5,264.2 390.8,264.3 391.1,264.6 391.5,264.0 391.8,263.8 392.1,264.2 392.4,265.0 392.8,264.9 393.1,263.8 393.4,265.0 393.7,264.5 394.0,264.7 394.3,264.5 394.6,264.7 394.9,264.1 395.2,264.1 395.5,264.2 395.9,264.3 396.2,264.8 396.6,264.0 396.9,265.2 397.2,264.2 397.6,264.2 397.9,264.8 398.2,264.7 398.5,264.4 398.9,264.0 399.2,264.1 399.5,263.8 399.8,265.0 400.1,265.0 400.4,265.3 400.7,264.7 401.0,264.6 401.3,264.8 401.6,264.9 402.0,264.4 402.3,264.7 402.6,265.4 403.0,263.8 403.3,263.9 403.6,264.1 404.0,264.8 404.3,265.0 404.6,264.4 404.9,264.8 405.2,264.5 405.5,264.6 405.8,264.3 406.2,264.5 406.5,264.5 406.8,265.0 407.1,265.5 407.4,263.7 407.7,264.7 408.0,264.5 408.4,264.9 408.7,265.0 409.0,264.8 409.3,264.8 409.6,264.1 410.0,263.8 410.3,265.2 410.6,265.0 410.9,264.1 411.2,265.1 411.5,264.8 411.8,263.4 412.1,264.9 412.4,264.1 412.8,265.0 413.1,264.2 413.4,264.2 413.7,263.8 414.0,264.4 414.4,264.9 414.7,264.2 415.0,263.7 415.3,265.4 415.6,265.3 415.9,264.8 416.2,264.3 416.5,264.0 416.8,263.8 417.2,264.7 417.5,265.1 417.8,264.0 418.1,264.5 418.4,264.4 418.8,264.4 419.1,264.7 419.4,265.4 419.7,264.2 420.0,264.9 420.3,265.0 420.6,264.4 420.9,264.4 421.2,263.9 421.6,265.0 421.9,264.3 422.2,264.2 422.5,264.5 422.8,264.1 423.1,264.0 423.4,264.4 423.7,265.1 424.0,264.4 424.3,264.7 424.7,263.9 425.0,263.7 425.3,265.3 425.6,264.3 425.9,263.8 426.2,264.5 426.5,264.8 426.9,263.8 427.2,264.1 427.5,264.6 427.8,264.1 428.1,264.8 428.4,264.9 428.7,264.7 429.0,264.3 429.3,264.5 429.7,264.2 430.0,264.4"/>
<polyline clip-path="url(#cp)" fill="none" stroke="#9400d3" stroke-width="0.9" points="51.5,28.3 70.5,37.0 102.7,64.2 121.5,87.3 134.9,108.7 145.3,127.5 153.8,142.9 161.0,157.6 167.2,171.2 172.6,184.2 177.6,194.5 182.0,204.8 186.0,213.6 189.8,221.3 193.2,228.0 196.4,234.4 199.4,239.6 202.2,244.4 204.9,248.6 207.4,252.1 209.8,254.9 212.1,257.3 214.2,258.5 216.3,259.5 218.3,260.9 220.2,261.9 222.0,262.3 223.7,262.3 225.4,262.6 227.1,263.3 228.6,263.8 230.2,263.6 231.7,263.5 233.1,265.0 234.5,264.0 235.8,264.3 237.1,264.2 238.4,264.1 239.6,264.4 240.9,264.3 242.0,264.7 243.2,263.9 244.3,263.8 245.4,265.3 246.5,264.4 247.5,264.7 248.5,264.9 249.5,264.7 250.5,264.4 251.5,263.7 252.4,263.7 253.3,264.8 254.2,264.7 255.1,264.7 256.0,263.7 256.8,263.5 257.7,264.0 258.5,263.9 259.3,264.5 260.1,264.0 260.9,265.1 261.7,264.2 262.4,264.2 263.2,264.8 263.9,264.6 264.6,264.0 265.3,264.8 266.0,265.3 266.7,263.9 267.4,264.3 268.1,264.0 268.7,263.6 269.4,264.7 270.0,264.7 270.6,264.9 271.3,264.6 271.9,263.6 272.5,264.4 273.1,264.2 273.7,263.9 274.3,264.0 274.8,264.8 275.4,264.3 276.0,265.3 276.5,264.7 277.1,263.6 277.6,264.8 278.2,265.0 278.7,264.5 279.2,263.9 279.7,265.2 280.3,263.9 280.8,264.4 281.3,263.6 281.8,263.9 282.3,263.7 282.8,264.9 283.2,265.0 283.7,264.3 284.2,263.9 284.6,264.4 285.1,264.6 285.6,263.8 286.0,263.9 286.5,264.4 286.9,264.8 287.4,264.5 287.8,264.7 288.2,263.9 288.7,263.4 289.1,264.6 289.5,264.1 289.9,264.4 290.3,264.3 290.7,264.7 291.2,264.1 291.6,265.1 292.0,264.5 292.3,264.7 292.7,264.7 293.1,264.9 293.5,264.6 293.9,263.7 294.3,264.2 294.7,265.3 295.0,264.7 295.4,264.7 295.8,264.7 296.1,264.2 296.5,264.2 296.9,264.2 297.2,265.0 297.6,264.6 297.9,265.2 298.3,264.7 298.6,265.3 299.0,264.7 299.3,263.9 299.6,265.2 300.0,264.6 300.3,265.0 300.6,264.6 301.0,264.3 301.3,264.5 301.6,264.0 301.9,263.9 302.3,264.1 302.6,264.2 302.9,263.9 303.2,264.4 303.5,264.6 303.8,265.4 304.1,265.3 304.4,264.4 304.7,264.9 305.0,264.4 305.6,264.6 306.2,264.5 306.8,264.2 307.4,264.5 307.9,263.8 308.5,264.7 309.1,264.3 309.6,264.0 310.1,264.3 310.7,264.7 311.2,264.2 311.7,264.7 312.2,264.7 312.8,265.2 313.3,264.0 313.8,264.4 314.3,264.7 314.7,265.1 315.2,264.6 315.7,264.8 316.2,263.8 316.7,264.2 317.1,265.2 317.6,264.4 318.0,265.4 318.5,264.2 318.9,264.4 319.4,263.8 319.8,264.8 320.3,264.6 320.7,265.4 321.1,264.6 321.5,264.4 322.0,263.9 322.4,264.4 322.8,264.9 323.2,264.8 323.6,265.0 324.0,264.9 324.4,264.5 324.8,264.7 325.2,264.6 325.6,263.9 325.9,265.2 326.3,264.6 326.7,264.0 327.1,264.7 327.5,264.6 327.8,264.9 328.2,265.1 328.6,263.1 328.9,264.7 329.3,265.2 329.6,264.1 330.0,263.7 330.3,264.6 330.7,264.6 331.0,264.6 331.4,264.0 331.7,264.3 332.0,264.6 332.4,264.8 332.7,265.5 333.0,264.6 333.4,264.2 333.7,263.4 334.0,265.0 334.3,264.4 334.7,264.4 335.0,264.0 335.3,264.8 335.6,263.7 335.9,264.5 336.2,264.5 336.5,264.6 336.8,265.1 337.1,264.4 337.4,264.5 337.9,264.9 338.3,263.8 338.8,264.4 339.2,264.5 339.6,264.9 340.0,264.1 340.5,264.8 340.9,264.7 341.3,263.8 341.7,263.8 342.1,263.8 342.5,264.6 342.9,264.6 343.3,264.8 343.7,264.9 344.1,264.2 344.5,265.0 344.9,264.9 345.3,264.7 345.6,264.7 346.0,263.9 346.4,264.7 346.7,264.0 347.1,264.0 347.5,264.3 347.8,264.6 348.2,264.5 348.5,264.3 348.9,264.0 349.2,264.6 349.6,264.2 349.9,263.9 350.3,264.5 350.6,265.1 351.0,264.3 351.3,264.0 351.6,265.1 352.0,265.3 352.3,264.4 352.6,264.4 352.9,264.6 353.2,265.8 353.6,264.6 353.9,264.9 354.2,264.7 354.5,263.7 354.8,264.0 355.1,263.9 355.4,264.7 355.7,264.5 356.0,265.3 356.4,264.4 356.8,264.6 357.2,264.5 357.6,264.6 358.0,265.5 358.4,264.6 358.8,265.2 359.1,265.1 359.5,264.2 359.9,264.8 360.2,264.3 360.6,264.5 361.0,264.6 361.3,264.5 361.7,264.3 362.0,265.2 362.4,264.4 362.7,264.8 363.1,265.2 363.4,264.8 363.8,265.0 364.1,265.1 364.4,265.0 364.8,265.3 365.1,263.9 365.4,265.4 365.8,264.5 366.1,263.7 366.4,264.2 366.7,263.9 367.1,264.5 367.4,263.8 367.7,264.0 368.0,264.6 368.3,264.6 368.6,264.1 368.9,264.4 369.2,264.5 369.5,264.5 369.9,264.5 370.3,264.4 370.6,264.9 371.0,263.8 371.4,264.3 371.7,264.6 372.1,264.3 372.4,264.2 372.8,264.3 373.1,264.6 373.5,265.1 373.8,264.4 374.2,264.4 374.5,264.7 374.8,264.4 375.2,263.6 375.5,264.6 375.8,264.3 376.1,264.2 376.5,264.8 376.8,264.5 377.1,264.2 377.4,263.5 377.7,263.7 378.1,264.5 378.4,264.4 378.7,264.7 379.0,264.6 379.3,264.3 379.6,263.9 379.9,264.0 380.3,264.4 380.6,264.0 381.0,264.8 381.3,263.9 381.7,263.7 382.0,264.4 382.3,263.7 382.7,265.2 383.0,264.1 383.4,264.5 383.7,264.4 384.0,264.1 384.4,263.7 384.7,263.7 385.0,264.9 385.3,265.0 385.6,265.5 386.0,263.8 386.3,264.7 386.6,264.5 386.9,264.9 387.2,264.3 387.5,264.8 387.8,264.9 388.1,264.8 388.4,265.1 388.8,264.4 389.1,265.2 389.5,264.2 389.8,265.2 390.1,263.3 390.5,264.5 390.8,264.1 391.1,264.5 391.5,265.0 391.8,264.8 392.1,264.5 392.4,265.3 392.8,263.8 393.1,264.1 393.4,265.2 393.7,264.6 394.0,263.6 394.3,264.7 394.6,264.0 394.9,265.2 395.2,265.0 395.5,264.3 395.9,265.1 396.2,264.1 396.6,264.9 396.9,264.8 397.2,264.4 397.6,263.9 397.9,264.4 398.2,263.5 398.5,264.2 398.9,263.7 399.2,265.0 399.5,264.1 399.8,263.4 400.1,264.8 400.4,264.7 400.7,264.3 401.0,265.5 401.3,264.8 401.6,264.5 402.0,264.2 402.3,263.2 402.6,264.7 403.0,264.9 403.3,264.2 403.6,263.9 404.0,264.5 404.3,263.7 404.6,264.5 404.9,264.8 405.2,265.2 405.5,264.6 405.8,264.6 406.2,264.8 406.5,265.1 406.8,264.4 407.1,263.9 407.4,264.1 407.7,263.9 408.0,264.1 408.4,264.4 408.7,264.7 409.0,264.6 409.3,264.5 409.6,264.3 410.0,264.7 410.3,264.9 410.6,264.8 410.9,265.2 411.2,264.4 411.5,264.4 411.8,265.3 412.1,264.6 412.4,264.7 412.8,264.3 413.1,264.9 413.4,264.3 413.7,264.0 414.0,264.5 414.4,264.3 414.7,264.9 415.0,264.3 415.3,264.6 415.6,264.4 415.9,264.7 416.2,264.2 416.5,265.0 416.8,263.9 417.2,264.3 417.5,264.2 417.8,264.8 418.1,264.5 418.4,264.7 418.8,264.4 419.1,264.2 419.4,264.0 419.7,264.3 420.0,264.3 420.3,264.6 420.6,264.7 420.9,264.9 421.2,264.5 421.6,264.2 421.9,264.0 422.2,264.5 422.5,264.7 422.8,265.4 423.1,264.6 423.4,265.3 423.7,265.3 424.0,264.0 424.3,265.0 424.7,265.0 425.0,265.1 425.3,264.5 425.6,264.9 425.9,264.3 426.2,264.5 426.5,264.5 426.9,265.3 427.2,264.4 427.5,264.9 427.8,264.5 428.1,264.2 428.4,264.6 428.7,264.8 429.0,264.2 429.3,264.8 429.7,264.2 430.0,264.1"/>
<polyline fill="none" stroke="none" marker-start="url(#m7)" marker-mid="url(#m7)" marker-end="url(#m7)" points="70.5,37.0 102.7,64.2 121.5,87.3 134.9,108.7 145.3,127.5 153.8,142.9 161.0,157.6 167.2,171.2 172.6,184.2 177.6,194.5 182.0,204.8 186.0,213.6 189.8,221.3 193.2,228.0 196.4,234.4 199.4,239.6 202.2,244.4 204.9,248.6 207.4,252.1 209.8,254.9 212.1,257.3 214.2,258.5 216.3,259.5 218.3,260.9 220.2,261.9 222.0,262.3 223.7,262.3 225.4,262.6 227.1,263.3 228.6,263.8 230.2,263.6 231.7,263.5 233.1,265.0 234.5,264.0 235.8,264.3 237.1,264.2 238.4,264.1 239.6,264.4 240.9,264.3 242.0,264.7 243.2,263.9"/>
<polyline fill="none" stroke="none" marker-start="url(#d7)" marker-mid="url(#d7)" marker-end="url(#d7)" points="244.3,263.8 245.4,265.3 246.5,264.4 247.5,264.7 248.5,264.9 249.5,264.7 250.5,264.4 251.5,263.7 252.4,263.7 253.3,264.8 254.2,264.7 255.1,264.7 256.0,263.7 256.8,263.5 257.7,264.0 258.5,263.9 259.3,264.5 260.1,264.0 260.9,265.1 261.7,264.2 262.4,264.2 263.2,264.8 263.9,264.6 264.6,264.0 265.3,264.8 266.0,265.3 266.7,263.9 267.4,264.3 268.1,264.0 268.7,263.6 269.4,264.7 270.0,264.7 270.6,264.9 271.3,264.6 271.9,263.6 272.5,264.4 273.1,264.2 273.7,263.9 274.3,264.0 274.8,264.8 275.4,264.3 276.0,265.3 276.5,264.7 277.1,263.6 277.6,264.8 278.2,265.0 278.7,264.5 279.2,263.9 279.7,265.2 280.3,263.9 280.8,264.4 281.3,263.6 281.8,263.9 282.3,263.7 282.8,264.9 283.2,265.0 283.7,264.3 284.2,263.9 284.6,264.4 285.1,264.6 285.6,263.8 286.0,263.9 286.5,264.4 286.9,264.8 287.4,264.5 287.8,264.7 288.2,263.9 288.7,263.4 289.1,264.6 289.5,264.1 289.9,264.4 290.3,264.3 290.7,264.7 291.2,264.1 291.6,265.1 292.0,264.5 292.3,264.7 292.7,264.7 293.1,264.9 293.5,264.6 293.9,263.7 294.3,264.2 294.7,265.3 295.0,264.7 295.4,264.7 295.8,264.7 296.1,264.2 296.5,264.2 296.9,264.2 297.2,265.0 297.6,264.6 297.9,265.2 298.3,264.7 298.6,265.3 299.0,264.7 299.3,263.9 299.6,265.2 300.0,264.6 300.3,265.0 300.6,264.6 301.0,264.3 301.3,264.5 301.6,264.0 301.9,263.9 302.3,264.1 302.6,264.2 302.9,263.9 303.2,264.4 303.5,264.6 303.8,265.4 304.1,265.3 304.4,264.4 304.7,264.9 305.0,264.4 305.6,264.6 306.2,264.5 306.8,264.2 307.4,264.5 307.9,263.8 308.5,264.7 309.1,264.3 309.6,264.0 310.1,264.3 310.7,264.7 311.2,264.2 311.7,264.7 312.2,264.7 312.8,265.2 313.3,264.0 313.8,264.4 314.3,264.7 314.7,265.1 315.2,264.6 315.7,264.8 316.2,263.8 316.7,264.2 317.1,265.2 317.6,264.4 318.0,265.4 318.5,264.2 318.9,264.4 319.4,263.8 319.8,264.8 320.3,264.6 320.7,265.4 321.1,264.6 321.5,264.4 322.0,263.9 322.4,264.4 322.8,264.9 323.2,264.8 323.6,265.0 324.0,264.9 324.4,264.5 324.8,264.7 325.2,264.6 325.6,263.9 325.9,265.2 326.3,264.6 326.7,264.0 327.1,264.7 327.5,264.6 327.8,264.9 328.2,265.1 328.6,263.1 328.9,264.7 329.3,265.2 329.6,264.1 330.0,263.7 330.3,264.6 330.7,264.6 331.0,264.6 331.4,264.0 331.7,264.3 332.0,264.6 332.4,264.8 332.7,265.5 333.0,264.6 333.4,264.2 333.7,263.4 334.0,265.0 334.3,264.4 334.7,264.4 335.0,264.0 335.3,264.8 335.6,263.7 335.9,264.5 336.2,264.5 336.5,264.6 336.8,265.1 337.1,264.4 337.4,264.5 337.9,264.9 338.3,263.8 338.8,264.4 339.2,264.5 339.6,264.9 340.0,264.1 340.5,264.8 340.9,264.7 341.3,263.8 341.7,263.8 342.1,263.8 342.5,264.6 342.9,264.6 343.3,264.8 343.7,264.9 344.1,264.2 344.5,265.0 344.9,264.9 345.3,264.7 345.6,264.7 346.0,263.9 346.4,264.7 346.7,264.0 347.1,264.0 347.5,264.3 347.8,264.6 348.2,264.5 348.5,264.3 348.9,264.0 349.2,264.6 349.6,264.2 349.9,263.9 350.3,264.5 350.6,265.1 351.0,264.3 351.3,264.0 351.6,265.1 352.0,265.3 352.3,264.4 352.6,264.4 352.9,264.6 353.2,265.8 353.6,264.6 353.9,264.9 354.2,264.7 354.5,263.7 354.8,264.0 355.1,263.9 355.4,264.7 355.7,264.5 356.0,265.3 356.4,264.4 356.8,264.6 357.2,264.5 357.6,264.6 358.0,265.5 358.4,264.6 358.8,265.2 359.1,265.1 359.5,264.2 359.9,264.8 360.2,264.3 360.6,264.5 361.0,264.6 361.3,264.5 361.7,264.3 362.0,265.2 362.4,264.4 362.7,264.8 363.1,265.2 363.4,264.8 363.8,265.0 364.1,265.1 364.4,265.0 364.8,265.3 365.1,263.9 365.4,265.4 365.8,264.5 366.1,263.7 366.4,264.2 366.7,263.9 367.1,264.5 367.4,263.8 367.7,264.0 368.0,264.6 368.3,264.6 368.6,264.1 368.9,264.4 369.2,264.5 369.5,264.5 369.9,264.5 370.3,264.4 370.6,264.9 371.0,263.8 371.4,264.3 371.7,264.6 372.1,264.3 372.4,264.2 372.8,264.3 373.1,264.6 373.5,265.1 373.8,264.4 374.2,264.4 374.5,264.7 374.8,264.4 375.2,263.6 375.5,264.6 375.8,264.3 376.1,264.2 376.5,264.8 376.8,264.5 377.1,264.2 377.4,263.5 377.7,263.7 378.1,264.5 378.4,264.4 378.7,264.7 379.0,264.6 379.3,264.3 379.6,263.9 379.9,264.0 380.3,264.4 380.6,264.0 381.0,264.8 381.3,263.9 381.7,263.7 382.0,264.4 382.3,263.7 382.7,265.2 383.0,264.1 383.4,264.5 383.7,264.4 384.0,264.1 384.4,263.7 384.7,263.7 385.0,264.9 385.3,265.0 385.6,265.5 386.0,263.8 386.3,264.7 386.6,264.5 386.9,264.9 387.2,264.3 387.5,264.8 387.8,264.9 388.1,264.8 388.4,265.1 388.8,264.4 389.1,265.2 389.5,264.2 389.8,265.2 390.1,263.3 390.5,264.5 390.8,264.1 391.1,264.5 391.5,265.0 391.8,264.8 392.1,264.5 392.4,265.3 392.8,263.8 393.1,264.1 393.4,265.2 393.7,264.6 394.0,263.6 394.3,264.7 394.6,264.0 394.9,265.2 395.2,265.0 395.5,264.3 395.9,265.1 396.2,264.1 396.6,264.9 396.9,264.8 397.2,264.4 397.6,263.9 397.9,264.4 398.2,263.5 398.5,264.2 398.9,263.7 399.2,265.0 399.5,264.1 399.8,263.4 400.1,264.8 400.4,264.7 400.7,264.3 401.0,265.5 401.3,264.8 401.6,264.5 402.0,264.2 402.3,263.2 402.6,264.7 403.0,264.9 403.3,264.2 403.6,263.9 404.0,264.5 404.3,263.7 404.6,264.5 404.9,264.8 405.2,265.2 405.5,264.6 405.8,264.6 406.2,264.8 406.5,265.1 406.8,264.4 407.1,263.9 407.4,264.1 407.7,263.9 408.0,264.1 408.4,264.4 408.7,264.7 409.0,264.6 409.3,264.5 409.6,264.3 410.0,264.7 410.3,264.9 410.6,264.8 410.9,265.2 411.2,264.4 411.5,264.4 411.8,265.3 412.1,264.6 412.4,264.7 412.8,264.3 413.1,264.9 413.4,264.3 413.7,264.0 414.0,264.5 414.4,264.3 414.7,264.9 415.0,264.3 415.3,264.6 415.6,264.4 415.9,264.7 416.2,264.2 416.5,265.0 416.8,263.9 417.2,264.3 417.5,264.2 417.8,264.8 418.1,264.5 418.4,264.7 418.8,264.4 419.1,264.2 419.4,264.0 419.7,264.3 420.0,264.3 420.3,264.6 420.6,264.7 420.9,264.9 421.2,264.5 421.6,264.2 421.9,264.0 422.2,264.5 422.5,264.7 422.8,265.4 423.1,264.6 423.4,265.3 423.7,265.3 424.0,264.0 424.3,265.0 424.7,265.0 425.0,265.1 425.3,264.5 425.6,264.9 425.9,264.3 426.2,264.5 426.5,264.5 426.9,265.3 427.2,264.4 427.5,264.9 427.8,264.5 428.1,264.2 428.4,264.6 428.7,264.8 429.0,264.2 429.3,264.8 429.7,264.2 430.0,264.1"/>
<polyline clip-path="url(#cp)" fill="none" stroke="#00ffff" stroke-width="0.9" points="51.5,28.9 70.5,38.0 102.7,67.5 121.5,92.8 134.9,116.9 145.3,135.6 153.8,153.5 161.0,169.2 167.2,183.7 172.6,196.2 177.6,206.8 182.0,216.5 186.0,224.8 189.8,232.5 193.2,238.6 196.4,244.0 199.4,248.6 202.2,252.5 204.9,255.5 207.4,258.0 209.8,260.5 212.1,261.8 214.2,261.9 216.3,263.0 218.3,263.3 220.2,263.5 222.0,263.2 223.7,264.8 225.4,263.3 227.1,264.4 228.6,264.2 230.2,264.9 231.7,264.2 233.1,264.4 234.5,264.7 235.8,264.6 237.1,264.2 238.4,264.7 239.6,264.6 240.9,264.9 242.0,264.2 243.2,264.4 244.3,264.2 245.4,264.0 246.5,264.5 247.5,264.6 248.5,265.1 249.5,264.3 250.5,264.6 251.5,264.9 252.4,264.4 253.3,264.5 254.2,264.5 255.1,264.1 256.0,264.0 256.8,264.9 257.7,264.5 258.5,264.4 259.3,263.9 260.1,264.5 260.9,265.0 261.7,263.9 262.4,264.0 263.2,264.9 263.9,265.1 264.6,265.1 265.3,264.2 266.0,264.7 266.7,264.1 267.4,264.7 268.1,264.3 268.7,264.5 269.4,265.0 270.0,264.6 270.6,264.3 271.3,264.5 271.9,264.6 272.5,264.2 273.1,264.5 273.7,264.7 274.3,265.1 274.8,263.5 275.4,263.9 276.0,263.9 276.5,264.8 277.1,265.5 277.6,264.5 278.2,264.5 278.7,265.0 279.2,263.4 279.7,264.4 280.3,263.1 280.8,264.5 281.3,264.2 281.8,264.2 282.3,264.6 282.8,264.2 283.2,265.0 283.7,264.5 284.2,264.6 284.6,265.6 285.1,264.3 285.6,264.9 286.0,264.1 286.5,265.0 286.9,264.9 287.4,264.5 287.8,264.9 288.2,265.2 288.7,265.1 289.1,264.5 289.5,264.4 289.9,265.0 290.3,263.8 290.7,264.2 291.2,264.7 291.6,264.7 292.0,265.3 292.3,265.2 292.7,264.6 293.1,264.7 293.5,263.9 293.9,264.4 294.3,264.6 294.7,264.4 295.0,264.5 295.4,264.7 295.8,264.0 296.1,264.2 296.5,263.7 296.9,265.0 297.2,264.0 297.6,263.7 297.9,264.8 298.3,264.4 298.6,264.9 299.0,264.3 299.3,265.4 299.6,264.8 300.0,264.5 300.3,264.5 300.6,264.4 301.0,264.8 301.3,265.4 301.6,264.3 301.9,264.0 302.3,264.7 302.6,264.9 302.9,263.8 303.2,264.2 303.5,264.0 303.8,264.7 304.1,264.7 304.4,264.1 304.7,264.0 305.0,264.8 305.6,263.6 306.2,264.8 306.8,264.4 307.4,265.3 307.9,264.9 308.5,264.2 309.1,264.4 309.6,264.4 310.1,264.2 310.7,264.5 311.2,264.9 311.7,263.8 312.2,264.4 312.8,265.1 313.3,264.8 313.8,264.1 314.3,264.1 314.7,264.1 315.2,263.8 315.7,265.0 316.2,264.5 316.7,264.2 317.1,263.8 317.6,264.3 318.0,264.3 318.5,265.2 318.9,264.3 319.4,264.5 319.8,265.0 320.3,264.8 320.7,264.4 321.1,263.5 321.5,265.1 322.0,264.7 322.4,264.3 322.8,264.4 323.2,264.1 323.6,264.1 324.0,263.8 324.4,264.7 324.8,264.7 325.2,264.6 325.6,264.8 325.9,264.7 326.3,264.5 326.7,264.1 327.1,264.7 327.5,265.0 327.8,264.8 328.2,265.0 328.6,264.3 328.9,264.1 329.3,265.0 329.6,264.2 330.0,264.6 330.3,264.4 330.7,264.5 331.0,264.4 331.4,264.2 331.7,263.7 332.0,265.3 332.4,264.6 332.7,263.6 333.0,264.1 333.4,264.0 333.7,264.2 334.0,263.4 334.3,264.7 334.7,265.2 335.0,264.4 335.3,264.8 335.6,264.8 335.9,263.9 336.2,265.0 336.5,263.7 336.8,264.2 337.1,264.3 337.4,265.0 337.9,264.5 338.3,264.4 338.8,264.1 339.2,264.5 339.6,264.5 340.0,264.8 340.5,265.1 340.9,264.8 341.3,264.5 341.7,264.4 342.1,265.2 342.5,264.6 342.9,264.5 343.3,265.3 343.7,265.2 344.1,264.7 344.5,264.4 344.9,264.2 345.3,265.0 345.6,264.3 346.0,264.9 346.4,264.1 346.7,264.5 347.1,264.7 347.5,264.6 347.8,264.6 348.2,264.7 348.5,264.0 348.9,264.0 349.2,264.4 349.6,265.3 349.9,264.4 350.3,264.1 350.6,264.2 351.0,264.5 351.3,265.0 351.6,264.2 352.0,264.7 352.3,264.6 352.6,264.3 352.9,264.1 353.2,264.4 353.6,264.2 353.9,264.7 354.2,263.7 354.5,265.0 354.8,264.8 355.1,264.7 355.4,265.2 355.7,264.8 356.0,263.7 356.4,264.5 356.8,264.7 357.2,264.2 357.6,264.0 358.0,264.7 358.4,264.7 358.8,264.3 359.1,264.4 359.5,264.3 359.9,264.2 360.2,264.5 360.6,265.0 361.0,263.8 361.3,264.3 361.7,265.2 362.0,264.6 362.4,264.6 362.7,264.9 363.1,264.1 363.4,264.0 363.8,263.8 364.1,263.9 364.4,264.6 364.8,264.9 365.1,264.3 365.4,264.2 365.8,264.7 366.1,264.8 366.4,264.6 366.7,263.7 367.1,264.3 367.4,263.4 367.7,264.6 368.0,264.1 368.3,264.2 368.6,265.2 368.9,265.1 369.2,264.7 369.5,264.6 369.9,264.6 370.3,264.2 370.6,264.5 371.0,265.3 371.4,264.1 371.7,264.2 372.1,264.6 372.4,264.9 372.8,264.9 373.1,264.1 373.5,264.4 373.8,264.4 374.2,264.0 374.5,264.5 374.8,264.3 375.2,264.9 375.5,264.7 375.8,264.2 376.1,264.5 376.5,264.3 376.8,264.2 377.1,264.3 377.4,265.0 377.7,264.3 378.1,263.7 378.4,264.2 378.7,264.9 379.0,265.4 379.3,264.0 379.6,264.3 379.9,264.4 380.3,263.9 380.6,264.7 381.0,264.5 381.3,264.6 381.7,265.5 382.0,264.4 382.3,264.8 382.7,264.9 383.0,264.2 383.4,264.2 383.7,265.2 384.0,264.8 384.4,264.6 384.7,264.0 385.0,264.9 385.3,264.7 385.6,265.5 386.0,265.1 386.3,264.8 386.6,264.6 386.9,264.5 387.2,264.3 387.5,264.6 387.8,264.6 388.1,264.8 388.4,265.0 388.8,264.6 389.1,264.3 389.5,264.9 389.8,265.2 390.1,264.1 390.5,264.7 390.8,264.7 391.1,264.7 391.5,264.7 391.8,264.5 392.1,264.5 392.4,265.2 392.8,265.3 393.1,263.9 393.4,263.4 393.7,264.7 394.0,264.2 394.3,264.3 394.6,263.8 394.9,264.7 395.2,264.5 395.5,264.3 395.9,264.9 396.2,265.6 396.6,265.1 396.9,265.0 397.2,264.3 397.6,264.8 397.9,264.5 398.2,265.0 398.5,264.8 398.9,264.5 399.2,264.7 399.5,264.2 399.8,264.8 400.1,265.2 400.4,264.3 400.7,264.7 401.0,263.8 401.3,264.9 401.6,264.9 402.0,264.1 402.3,265.3 402.6,264.5 403.0,263.7 403.3,263.9 403.6,264.9 404.0,264.4 404.3,265.0 404.6,263.8 404.9,264.5 405.2,264.9 405.5,264.2 405.8,264.8 406.2,264.3 406.5,264.7 406.8,264.6 407.1,265.5 407.4,264.0 407.7,264.8 408.0,265.1 408.4,264.0 408.7,264.5 409.0,265.5 409.3,265.0 409.6,263.2 410.0,264.4 410.3,263.8 410.6,264.6 410.9,264.2 411.2,264.3 411.5,264.1 411.8,264.6 412.1,264.3 412.4,264.1 412.8,264.4 413.1,264.7 413.4,264.1 413.7,265.0 414.0,263.8 414.4,264.7 414.7,264.3 415.0,265.2 415.3,264.2 415.6,264.2 415.9,263.9 416.2,265.4 416.5,264.8 416.8,264.0 417.2,264.4 417.5,264.1 417.8,265.2 418.1,264.7 418.4,263.6 418.8,264.6 419.1,264.9 419.4,264.5 419.7,264.7 420.0,264.5 420.3,264.6 420.6,264.6 420.9,264.2 421.2,264.7 421.6,264.6 421.9,264.5 422.2,264.2 422.5,264.1 422.8,264.6 423.1,264.9 423.4,263.4 423.7,264.3 424.0,265.1 424.3,264.9 424.7,264.2 425.0,265.1 425.3,264.1 425.6,264.2 425.9,265.3 426.2,264.3 426.5,264.4 426.9,263.8 427.2,264.1 427.5,264.0 427.8,264.4 428.1,263.7 428.4,265.0 428.7,264.3 429.0,264.2 429.3,264.2 429.7,264.8 430.0,265.2"/>
<polyline fill="none" stroke="none" marker-start="url(#m8)" marker-mid="url(#m8)" marker-end="url(#m8)" points="70.5,38.0 102.7,67.5 121.5,92.8 134.9,116.9 145.3,135.6 153.8,153.5 161.0,169.2 167.2,183.7 172.6,196.2 177.6,206.8 182.0,216.5 186.0,224.8 189.8,232.5 193.2,238.6 196.4,244.0 199.4,248.6 202.2,252.5 204.9,255.5 207.4,258.0 209.8,260.5 212.1,261.8 214.2,261.9 216.3,263.0 218.3,263.3 220.2,263.5 222.0,263.2 223.7,264.8 225.4,263.3 227.1,264.4 228.6,264.2 230.2,264.9 231.7,264.2 233.1,264.4 234.5,264.7 235.8,264.6 237.1,264.2 238.4,264.7 239.6,264.6 240.9,264.9 242.0,264.2 243.2,264.4"/>
<polyline fill="none" stroke="none" marker-start="url(#d8)" marker-mid="url(#d8)" marker-end="url(#d8)" points="244.3,264.2 245.4,264.0 246.5,264.5 247.5,264.6 248.5,265.1 249.5,264.3 250.5,264.6 251.5,264.9 252.4,264.4 253.3,264.5 254.2,264.5 255.1,264.1 256.0,264.0 256.8,264.9 257.7,264.5 258.5,264.4 259.3,263.9 260.1,264.5 260.9,265.0 261.7,263.9 262.4,264.0 263.2,264.9 263.9,265.1 264.6,265.1 265.3,264.2 266.0,264.7 266.7,264.1 267.4,264.7 268.1,264.3 268.7,264.5 269.4,265.0 270.0,264.6 270.6,264.3 271.3,264.5 271.9,264.6 272.5,264.2 273.1,264.5 273.7,264.7 274.3,265.1 274.8,263.5 275.4,263.9 276.0,263.9 276.5,264.8 277.1,265.5 277.6,264.5 278.2,264.5 278.7,265.0 279.2,263.4 279.7,264.4 280.3,263.1 280.8,264.5 281.3,264.2 281.8,264.2 282.3,264.6 282.8,264.2 283.2,265.0 283.7,264.5 284.2,264.6 284.6,265.6 285.1,264.3 285.6,264.9 286.0,264.1 286.5,265.0 286.9,264.9 287.4,264.5 287.8,264.9 288.2,265.2 288.7,265.1 289.1,264.5 289.5,264.4 289.9,265.0 290.3,263.8 290.7,264.2 291.2,264.7 291.6,264.7 292.0,265.3 292.3,265.2 292.7,264.6 293.1,264.7 293.5,263.9 293.9,264.4 294.3,264.6 294.7,264.4 295.0,264.5 295.4,264.7 295.8,264.0 296.1,264.2 296.5,263.7 296.9,265.0 297.2,264.0 297.6,263.7 297.9,264.8 298.3,264.4 298.6,264.9 299.0,264.3 299.3,265.4 299.6,264.8 300.0,264.5 300.3,264.5 300.6,264.4 301.0,264.8 301.3,265.4 301.6,264.3 301.9,264.0 302.3,264.7 302.6,264.9 302.9,263.8 303.2,264.2 303.5,264.0 303.8,264.7 304.1,264.7 304.4,264.1 304.7,264.0 305.0,264.8 305.6,263.6 306.2,264.8 306.8,264.4 307.4,265.3 307.9,264.9 308.5,264.2 309.1,264.4 309.6,264.4 310.1,264.2 310.7,264.5 311.2,264.9 311.7,263.8 312.2,264.4 312.8,265.1 313.3,264.8 313.8,264.1 314.3,264.1 314.7,264.1 315.2,263.8 315.7,265.0 316.2,264.5 316.7,264.2 317.1,263.8 317.6,264.3 318.0,264.3 318.5,265.2 318.9,264.3 319.4,264.5 319.8,265.0 320.3,264.8 320.7,264.4 321.1,263.5 321.5,265.1 322.0,264.7 322.4,264.3 322.8,264.4 323.2,264.1 323.6,264.1 324.0,263.8 324.4,264.7 324.8,264.7 325.2,264.6 325.6,264.8 325.9,264.7 326.3,264.5 326.7,264.1 327.1,264.7 327.5,265.0 327.8,264.8 328.2,265.0 328.6,264.3 328.9,264.1 329.3,265.0 329.6,264.2 330.0,264.6 330.3,264.4 330.7,264.5 331.0,264.4 331.4,264.2 331.7,263.7 332.0,265.3 332.4,264.6 332.7,263.6 333.0,264.1 333.4,264.0 333.7,264.2 334.0,263.4 334.3,264.7 334.7,265.2 335.0,264.4 335.3,264.8 335.6,264.8 335.9,263.9 336.2,265.0 336.5,263.7 336.8,264.2 337.1,264.3 337.4,265.0 337.9,264.5 338.3,264.4 338.8,264.1 339.2,264.5 339.6,264.5 340.0,264.8 340.5,265.1 340.9,264.8 341.3,264.5 341.7,264.4 342.1,265.2 342.5,264.6 342.9,264.5 343.3,265.3 343.7,265.2 344.1,264.7 344.5,264.4 344.9,264.2 345.3,265.0 345.6,264.3 346.0,264.9 346.4,264.1 346.7,264.5 347.1,264.7 347.5,264.6 347.8,264.6 348.2,264.7 348.5,264.0 348.9,264.0 349.2,264.4 349.6,265.3 349.9,264.4 350.3,264.1 350.6,264.2 351.0,264.5 351.3,265.0 351.6,264.2 352.0,264.7 352.3,264.6 352.6,264.3 352.9,264.1 353.2,264.4 353.6,264.2 353.9,264.7 354.2,263.7 354.5,265.0 354.8,264.8 355.1,264.7 355.4,265.2 355.7,264.8 356.0,263.7 356.4,264.5 356.8,264.7 357.2,264.2 357.6,264.0 358.0,264.7 358.4,264.7 358.8,264.3 359.1,264.4 359.5,264.3 359.9,264.2 360.2,264.5 360.6,265.0 361.0,263.8 361.3,264.3 361.7,265.2 362.0,264.6 362.4,264.6 362.7,264.9 363.1,264.1 363.4,264.0 363.8,263.8 364.1,263.9 364.4,264.6 364.8,264.9 365.1,264.3 365.4,264.2 365.8,264.7 366.1,264.8 366.4,264.6 366.7,263.7 367.1,264.3 367.4,263.4 367.7,264.6 368.0,264.1 368.3,264.2 368.6,265.2 368.9,265.1 369.2,264.7 369.5,264.6 369.9,264.6 370.3,264.2 370.6,264.5 371.0,265.3 371.4,264.1 371.7,264.2 372.1,264.6 372.4,264.9 372.8,264.9 373.1,264.1 373.5,264.4 373.8,264.4 374.2,264.0 374.5,264.5 374.8,264.3 375.2,264.9 375.5,264.7 375.8,264.2 376.1,264.5 376.5,264.3 376.8,264.2 377.1,264.3 377.4,265.0 377.7,264.3 378.1,263.7 378.4,264.2 378.7,264.9 379.0,265.4 379.3,264.0 379.6,264.3 379.9,264.4 380.3,263.9 380.6,264.7 381.0,264.5 381.3,264.6 381.7,265.5 382.0,264.4 382.3,264.8 382.7,264.9 383.0,264.2 383.4,264.2 383.7,265.2 384.0,264.8 384.4,264.6 384.7,264.0 385.0,264.9 385.3,264.7 385.6,265.5 386.0,265.1 386.3,264.8 386.6,264.6 386.9,264.5 387.2,264.3 387.5,264.6 387.8,264.6 388.1,264.8 388.4,265.0 388.8,264.6 389.1,264.3 389.5,264.9 389.8,265.2 390.1,264.1 390.5,264.7 390.8,264.7 391.1,264.7 391.5,264.7 391.8,264.5 392.1,264.5 392.4,265.2 392.8,265.3 393.1,263.9 393.4,263.4 393.7,264.7 394.0,264.2 394.3,264.3 394.6,263.8 394.9,264.7 395.2,264.5 395.5,264.3 395.9,264.9 396.2,265.6 396.6,265.1 396.9,265.0 397.2,264.3 397.6,264.8 397.9,264.5 398.2,265.0 398.5,264.8 398.9,264.5 399.2,264.7 399.5,264.2 399.8,264.8 400.1,265.2 400.4,264.3 400.7,264.7 401.0,263.8 401.3,264.9 401.6,264.9 402.0,264.1 402.3,265.3 402.6,264.5 403.0,263.7 403.3,263.9 403.6,264.9 404.0,264.4 404.3,265.0 404.6,263.8 404.9,264.5 405.2,264.9 405.5,264.2 405.8,264.8 406.2,264.3 406.5,264.7 406.8,264.6 407.1,265.5 407.4,264.0 407.7,264.8 408.0,265.1 408.4,264.0 408.7,264.5 409.0,265.5 409.3,265.0 409.6,263.2 410.0,264.4 410.3,263.8 410.6,264.6 410.9,264.2 411.2,264.3 411.5,264.1 411.8,264.6 412.1,264.3 412.4,264.1 412.8,264.4 413.1,264.7 413.4,264.1 413.7,265.0 414.0,263.8 414.4,264.7 414.7,264.3 415.0,265.2 415.3,264.2 415.6,264.2 415.9,263.9 416.2,265.4 416.5,264.8 416.8,264.0 417.2,264.4 417.5,264.1 417.8,265.2 418.1,264.7 418.4,263.6 418.8,264.6 419.1,264.9 419.4,264.5 419.7,264.7 420.0,264.5 420.3,264.6 420.6,264.6 420.9,264.2 421.2,264.7 421.6,264.6 421.9,264.5 422.2,264.2 422.5,264.1 422.8,264.6 423.1,264.9 423.4,263.4 423.7,264.3 424.0,265.1 424.3,264.9 424.7,264.2 425.0,265.1 425.3,264.1 425.6,264.2 425.9,265.3 426.2,264.3 426.5,264.4 426.9,263.8 427.2,264.1 427.5,264.0 427.8,264.4 428.1,263.7 428.4,265.0 428.7,264.3 429.0,264.2 429.3,264.2 429.7,264.8 430.0,265.2"/>
<rect x="51.55" y="1.35" width="378.45" height="265.05" fill="none" stroke="#000" stroke-width="1.3"/>
<path d="M53.86 266.4v-3.5M53.86 1.35v3.5M60.07 266.4v-3.5M60.07 1.35v3.5M65.55 266.4v-3.5M65.55 1.35v3.5M70.45 266.4v-7.2M70.45 1.35v7.2M102.69 266.4v-3.5M102.69 1.35v3.5M121.55 266.4v-3.5M121.55 1.35v3.5M134.93 266.4v-3.5M134.93 1.35v3.5M145.31 266.4v-3.5M145.31 1.35v3.5M153.79 266.4v-3.5M153.79 1.35v3.5M160.96 266.4v-3.5M160.96 1.35v3.5M167.17 266.4v-3.5M167.17 1.35v3.5M172.65 266.4v-3.5M172.65 1.35v3.5M177.55 266.4v-7.2M177.55 1.35v7.2M209.79 266.4v-3.5M209.79 1.35v3.5M228.65 266.4v-3.5M228.65 1.35v3.5M242.03 266.4v-3.5M242.03 1.35v3.5M252.41 266.4v-3.5M252.41 1.35v3.5M260.89 266.4v-3.5M260.89 1.35v3.5M268.06 266.4v-3.5M268.06 1.35v3.5M274.27 266.4v-3.5M274.27 1.35v3.5M279.75 266.4v-3.5M279.75 1.35v3.5M284.65 266.4v-7.2M284.65 1.35v7.2M316.89 266.4v-3.5M316.89 1.35v3.5M335.75 266.4v-3.5M335.75 1.35v3.5M349.13 266.4v-3.5M349.13 1.35v3.5M359.51 266.4v-3.5M359.51 1.35v3.5M367.99 266.4v-3.5M367.99 1.35v3.5M375.16 266.4v-3.5M375.16 1.35v3.5M381.37 266.4v-3.5M381.37 1.35v3.5M386.85 266.4v-3.5M386.85 1.35v3.5M391.75 266.4v-7.2M391.75 1.35v7.2M423.99 266.4v-3.5M423.99 1.35v3.5M51.55 264.90h7.3M430.0 264.90h-7.3M51.55 238.51h3.6M430.0 238.51h-3.6M51.55 212.12h7.3M430.0 212.12h-7.3M51.55 185.73h3.6M430.0 185.73h-3.6M51.55 159.34h7.3M430.0 159.34h-7.3M51.55 132.95h3.6M430.0 132.95h-3.6M51.55 106.56h7.3M430.0 106.56h-7.3M51.55 80.17h3.6M430.0 80.17h-3.6M51.55 53.78h7.3M430.0 53.78h-7.3M51.55 27.39h3.6M430.0 27.39h-3.6" stroke="#000" stroke-width="1" fill="none"/>
<text x="48.4" y="270.7" font-size="16.8" text-anchor="end">0</text>
<text x="48.4" y="217.9" font-size="16.8" text-anchor="end">0.2</text>
<text x="48.4" y="165.1" font-size="16.8" text-anchor="end">0.4</text>
<text x="48.4" y="112.4" font-size="16.8" text-anchor="end">0.6</text>
<text x="48.4" y="59.6" font-size="16.8" text-anchor="end">0.8</text>
<text x="57.5" y="288.1" font-size="16.8">10<tspan font-size="11.3" dy="-9.3">-1</tspan></text>
<text x="167.2" y="288.1" font-size="16.8">10<tspan font-size="11.3" dy="-9.3">0</tspan></text>
<text x="274.2" y="288.1" font-size="16.8">10<tspan font-size="11.3" dy="-9.3">1</tspan></text>
<text x="381.3" y="288.1" font-size="16.8">10<tspan font-size="11.3" dy="-9.3">2</tspan></text>
<text x="241" y="305.8" font-size="21" text-anchor="middle">t (ps)</text>
<text transform="translate(16,134) rotate(-90)" font-size="21" text-anchor="middle">C<tspan font-size="15" dy="6">d</tspan><tspan dy="-6">(t)</tspan></text>
<text x="72.6" y="21.8" font-size="19.6" letter-spacing="0.5">(a)</text>
<rect x="316.3" y="20.3" width="83.6" height="160.9" fill="#fff" stroke="#000" stroke-width="1"/>
<path d="M324.6 30.80H340.3" stroke="#000000" stroke-width="1"/>
<use href="#s0" x="324.6" y="30.80"/><use href="#s0" x="340.3" y="30.80"/>
<text x="347.2" y="35.1" font-size="16.1">Q=0.00</text>
<path d="M324.6 48.35H340.3" stroke="#ff0000" stroke-width="1"/>
<use href="#s1" x="324.6" y="48.35"/><use href="#s1" x="340.3" y="48.35"/>
<text x="347.2" y="52.6" font-size="16.1">Q=0.05</text>
<path d="M324.6 65.90H340.3" stroke="#00ff00" stroke-width="1"/>
<use href="#s2" x="324.6" y="65.90"/><use href="#s2" x="340.3" y="65.90"/>
<text x="347.2" y="70.2" font-size="16.1">Q=0.06</text>
<path d="M324.6 83.45H340.3" stroke="#0000ff" stroke-width="1"/>
<use href="#s3" x="324.6" y="83.45"/><use href="#s3" x="340.3" y="83.45"/>
<text x="347.2" y="87.8" font-size="16.1">Q=0.08</text>
<path d="M324.6 101.00H340.3" stroke="#ffa500" stroke-width="1"/>
<use href="#s4" x="324.6" y="101.00"/><use href="#s4" x="340.3" y="101.00"/>
<text x="347.2" y="105.3" font-size="16.1">Q=0.10</text>
<path d="M324.6 118.55H340.3" stroke="#bc8f8f" stroke-width="1"/>
<use href="#s5" x="324.6" y="118.55"/><use href="#s5" x="340.3" y="118.55"/>
<text x="347.2" y="122.8" font-size="16.1">Q=0.15</text>
<path d="M324.6 136.10H340.3" stroke="#dcdcdc" stroke-width="1"/>
<use href="#s6" x="324.6" y="136.10"/><use href="#s6" x="340.3" y="136.10"/>
<text x="347.2" y="140.4" font-size="16.1">Q=0.20</text>
<path d="M324.6 153.65H340.3" stroke="#9400d3" stroke-width="1"/>
<use href="#s7" x="324.6" y="153.65"/><use href="#s7" x="340.3" y="153.65"/>
<text x="347.2" y="158.0" font-size="16.1">Q=0.25</text>
<path d="M324.6 171.20H340.3" stroke="#00ffff" stroke-width="1"/>
<use href="#s8" x="324.6" y="171.20"/><use href="#s8" x="340.3" y="171.20"/>
<text x="347.2" y="175.5" font-size="16.1">Q=0.30</text>
</svg></body></html>
